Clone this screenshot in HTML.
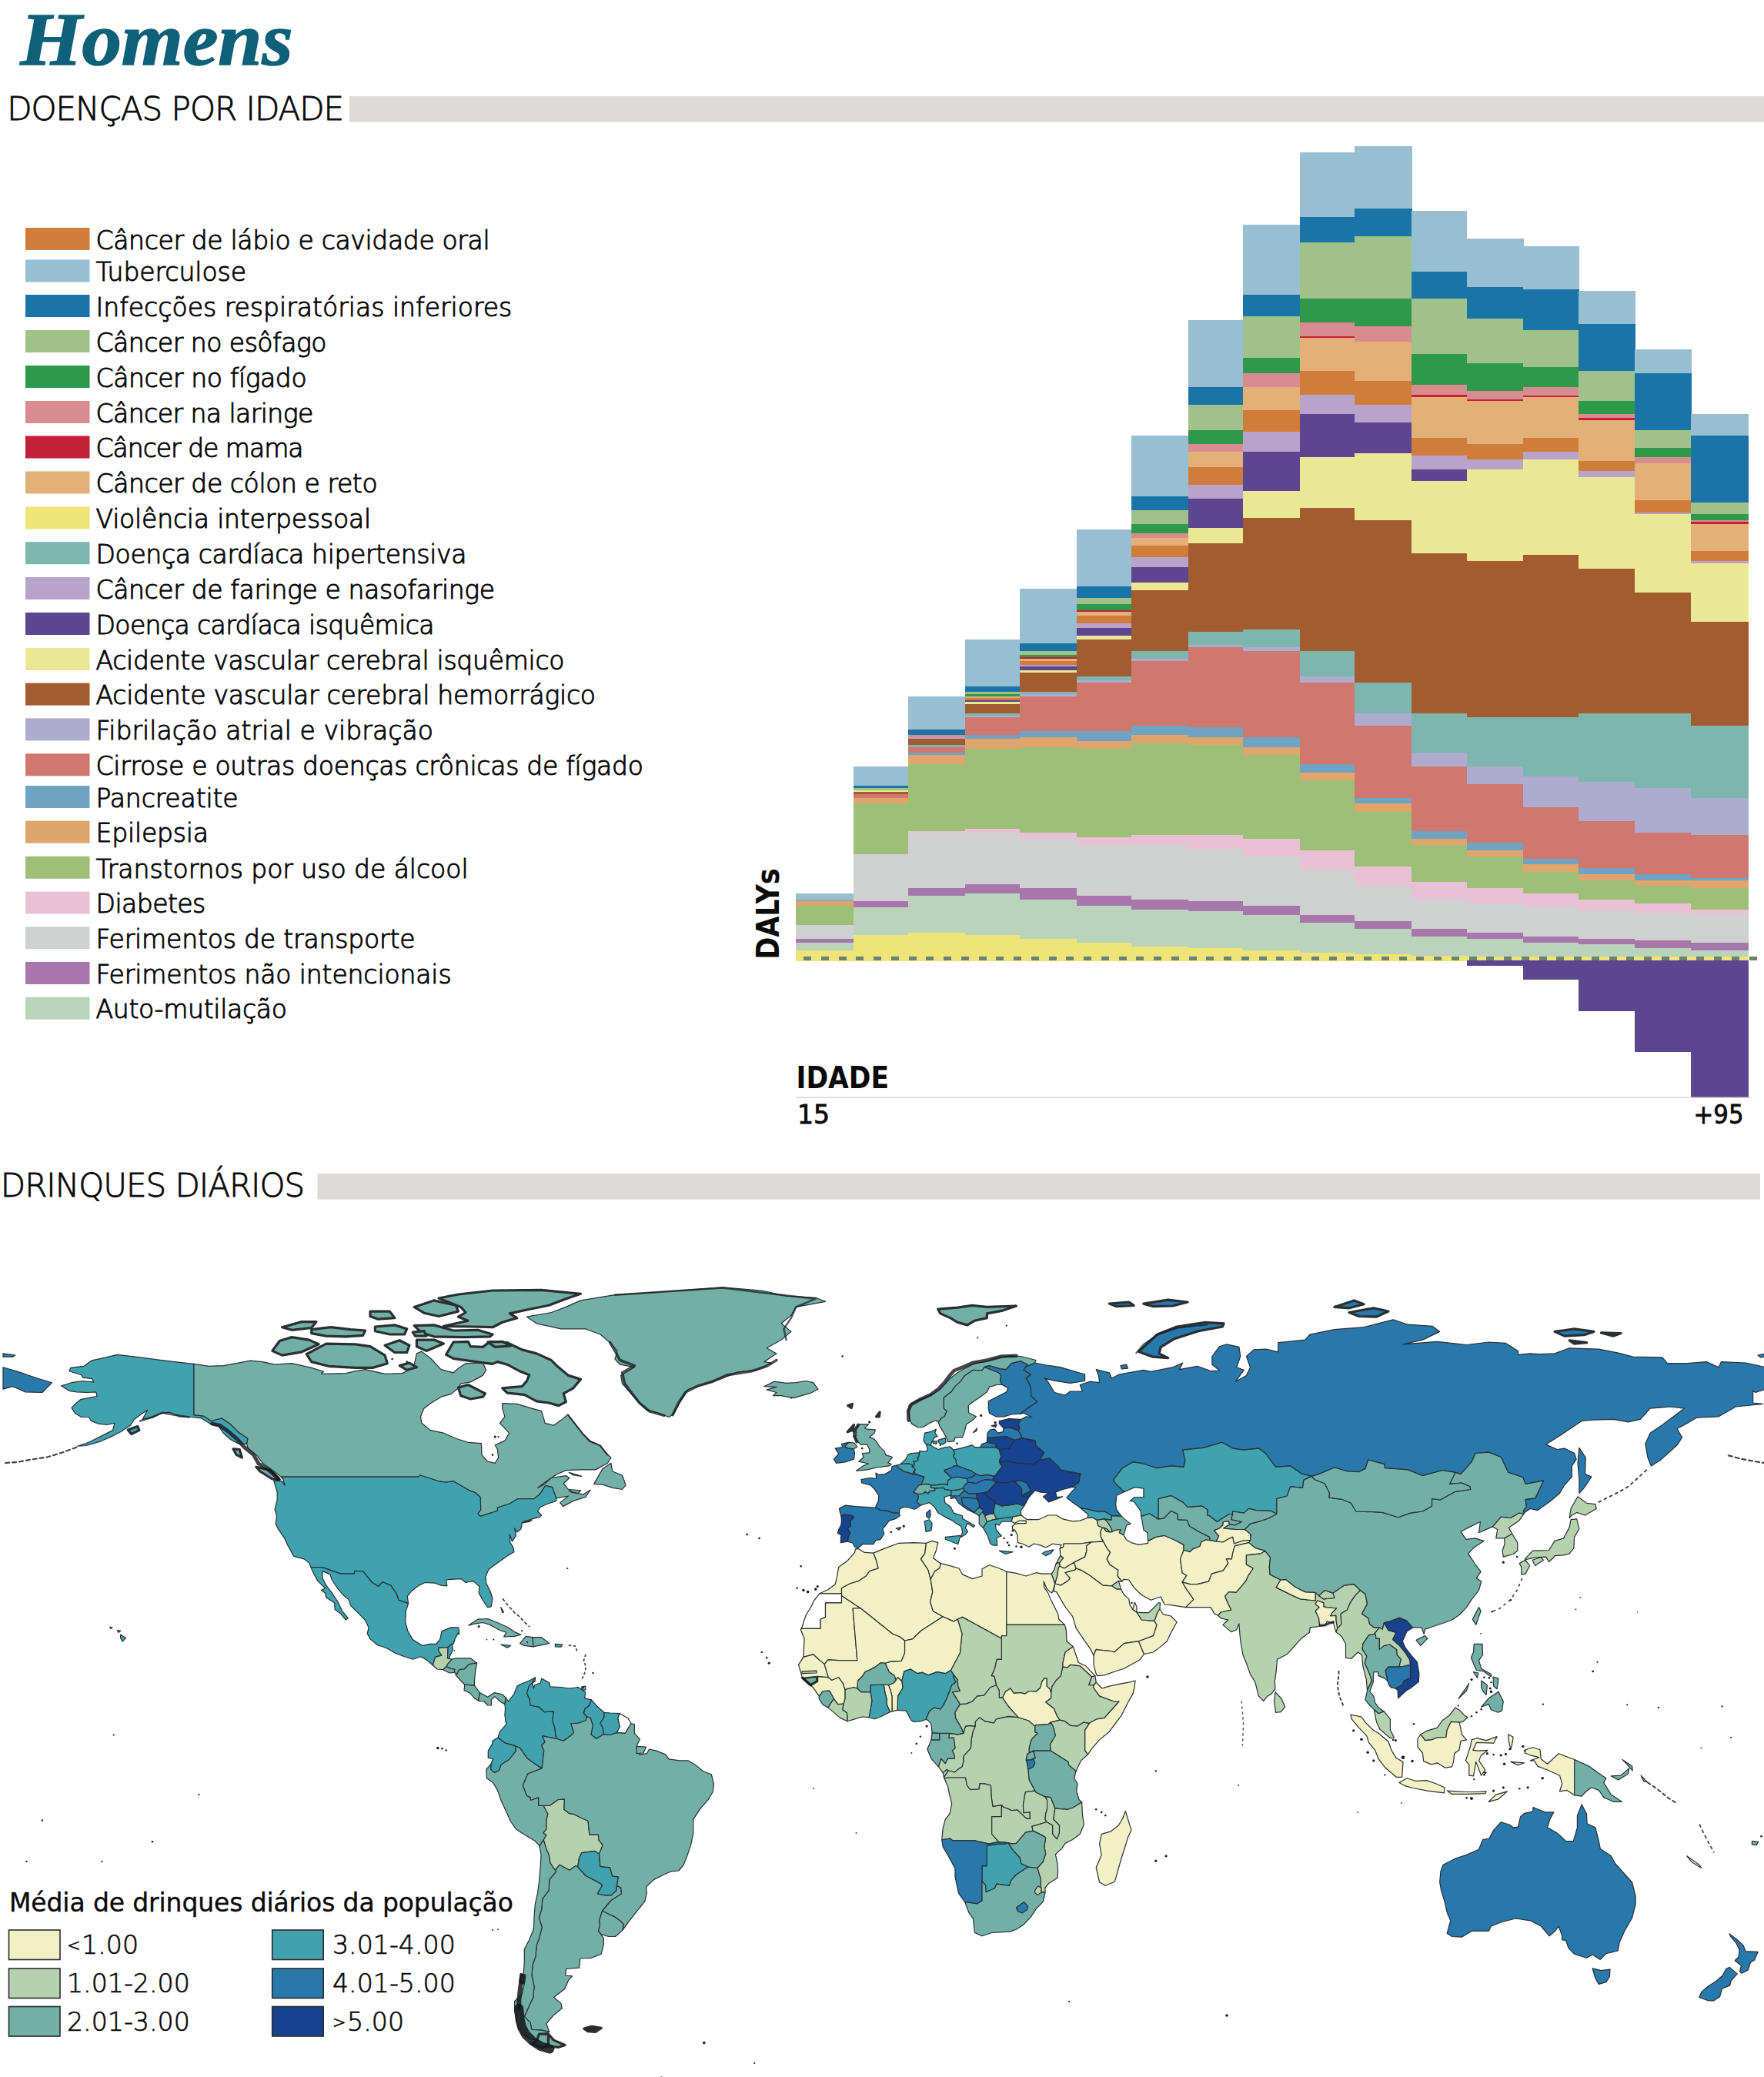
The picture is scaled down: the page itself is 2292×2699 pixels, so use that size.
<!DOCTYPE html>
<html lang="pt-BR"><head><meta charset="utf-8"><title>Homens</title>
<style>
html,body{margin:0;padding:0;background:#fff}
body{width:2292px;height:2699px;overflow:hidden}
svg{display:block}
text{font-family:"DejaVu Sans","Liberation Sans",sans-serif;fill:#0a0a0a}
.ttl{font-family:"Liberation Serif","DejaVu Serif",serif;font-weight:bold;font-style:italic;font-size:97px;fill:#0f6079;stroke:#0f6079;stroke-width:1.6px}
.hd{font-weight:200;font-size:42px;letter-spacing:-1.0px;stroke:#0a0a0a;stroke-width:.85px}
.lg{font-weight:200;font-size:33px;stroke:#0a0a0a;stroke-width:1px}
.ml{font-weight:200;font-size:33.2px;stroke:#0a0a0a;stroke-width:.7px}
.mt{font-size:33px;letter-spacing:-.12px;stroke:#0a0a0a;stroke-width:.35px}
.ax{font-size:33px;stroke:#0a0a0a;stroke-width:.8px}
.axb{font-family:"DejaVu Sans Condensed","DejaVu Sans",sans-serif;font-stretch:condensed;font-weight:bold;font-size:38px}
</style></head><body>
<svg width="2292" height="2699" viewBox="0 0 2292 2699">
<rect width="2292" height="2699" fill="#fff"/>
<text class="ttl" x="26.5" y="84" textLength="354" lengthAdjust="spacingAndGlyphs">Homens</text>
<text class="hd" x="9.2" y="156">DOENÇAS POR IDADE</text>
<rect x="454" y="125" width="1838" height="33.6" fill="#dedad7"/>
<g id="legend">
<rect x="33" y="296" width="83.5" height="29" fill="#d07c3a"/>
<text class="lg" x="124.5" y="323.7" textLength="512.1">Câncer de lábio e cavidade oral</text>
<rect x="33" y="337.5" width="83.5" height="29" fill="#97bfd1"/>
<text class="lg" x="124.5" y="365.2" textLength="195.5">Tuberculose</text>
<rect x="33" y="383" width="83.5" height="29" fill="#1b74a8"/>
<text class="lg" x="124.5" y="410.7" textLength="540.8">Infecções respiratórias inferiores</text>
<rect x="33" y="429" width="83.5" height="29" fill="#a1c18a"/>
<text class="lg" x="124.5" y="456.7" textLength="299.9">Câncer no esôfago</text>
<rect x="33" y="475" width="83.5" height="29" fill="#2f994b"/>
<text class="lg" x="124.5" y="502.7" textLength="274.1">Câncer no fígado</text>
<rect x="33" y="521" width="83.5" height="29" fill="#d88c90"/>
<text class="lg" x="124.5" y="548.7" textLength="282.8">Câncer na laringe</text>
<rect x="33" y="566.5" width="83.5" height="29" fill="#c32138"/>
<text class="lg" x="124.5" y="594.2" textLength="270.1">Câncer de mama</text>
<rect x="33" y="612.5" width="83.5" height="29" fill="#e3b177"/>
<text class="lg" x="124.5" y="640.2" textLength="366.1">Câncer de cólon e reto</text>
<rect x="33" y="658.5" width="83.5" height="29" fill="#eee478"/>
<text class="lg" x="124.5" y="686.2" textLength="357.6">Violência interpessoal</text>
<rect x="33" y="704.2" width="83.5" height="29" fill="#7db6af"/>
<text class="lg" x="124.5" y="731.9000000000001" textLength="481.9">Doença cardíaca hipertensiva</text>
<rect x="33" y="750" width="83.5" height="29" fill="#b8a4cb"/>
<text class="lg" x="124.5" y="777.7" textLength="518.5">Câncer de faringe e nasofaringe</text>
<rect x="33" y="796" width="83.5" height="29" fill="#5d4590"/>
<text class="lg" x="124.5" y="823.7" textLength="440.0">Doença cardíaca isquêmica</text>
<rect x="33" y="842" width="83.5" height="29" fill="#eae894"/>
<text class="lg" x="124.5" y="869.7" textLength="609.0">Acidente vascular cerebral isquêmico</text>
<rect x="33" y="887.6" width="83.5" height="29" fill="#a35b30"/>
<text class="lg" x="124.5" y="915.3000000000001" textLength="649.5">Acidente vascular cerebral hemorrágico</text>
<rect x="33" y="933.4" width="83.5" height="29" fill="#aeacce"/>
<text class="lg" x="124.5" y="961.1" textLength="438.5">Fibrilação atrial e vibração</text>
<rect x="33" y="979.3" width="83.5" height="29" fill="#d07870"/>
<text class="lg" x="124.5" y="1007.0" textLength="711.4">Cirrose e outras doenças crônicas de fígado</text>
<rect x="33" y="1021" width="83.5" height="29" fill="#70a3c1"/>
<text class="lg" x="124.5" y="1048.7" textLength="185.1">Pancreatite</text>
<rect x="33" y="1066.7" width="83.5" height="29" fill="#dfa56c"/>
<text class="lg" x="124.5" y="1094.4" textLength="146.6">Epilepsia</text>
<rect x="33" y="1112.8" width="83.5" height="29" fill="#9ebf77"/>
<text class="lg" x="124.5" y="1140.5" textLength="484.1">Transtornos por uso de álcool</text>
<rect x="33" y="1158.6" width="83.5" height="29" fill="#e8c1d5"/>
<text class="lg" x="124.5" y="1186.3" textLength="142.8">Diabetes</text>
<rect x="33" y="1204.3" width="83.5" height="29" fill="#cfd1d0"/>
<text class="lg" x="124.5" y="1232.0" textLength="415.1">Ferimentos de transporte</text>
<rect x="33" y="1250" width="83.5" height="29" fill="#a777ab"/>
<text class="lg" x="124.5" y="1277.7" textLength="462.1">Ferimentos não intencionais</text>
<rect x="33" y="1295.7" width="83.5" height="29" fill="#b9d4ba"/>
<text class="lg" x="124.5" y="1323.4" textLength="248.5">Auto-mutilação</text>
</g>
<g id="chart" shape-rendering="crispEdges">
<rect x="1034.0" y="1161.0" width="75.6" height="8.3" fill="#97bfd1"/>
<rect x="1034.0" y="1168.7" width="75.6" height="2.9" fill="#7db6af"/>
<rect x="1034.0" y="1171.0" width="75.6" height="6.6" fill="#dfa56c"/>
<rect x="1034.0" y="1177.0" width="75.6" height="25.6" fill="#9ebf77"/>
<rect x="1034.0" y="1202.0" width="75.6" height="18.6" fill="#cfd1d0"/>
<rect x="1034.0" y="1220.0" width="75.6" height="5.6" fill="#a777ab"/>
<rect x="1034.0" y="1225.0" width="75.6" height="10.6" fill="#b9d4ba"/>
<rect x="1034.0" y="1235.0" width="75.6" height="13.6" fill="#eee478"/>
<rect x="1109.0" y="995.8" width="71.6" height="25.8" fill="#97bfd1"/>
<rect x="1109.0" y="1021.0" width="71.6" height="3.8" fill="#1b74a8"/>
<rect x="1109.0" y="1024.2" width="71.6" height="3.7" fill="#a1c18a"/>
<rect x="1109.0" y="1027.3" width="71.6" height="2.5" fill="#eae894"/>
<rect x="1109.0" y="1029.2" width="71.6" height="3.3" fill="#a35b30"/>
<rect x="1109.0" y="1031.9" width="71.6" height="5.8" fill="#d07870"/>
<rect x="1109.0" y="1037.1" width="71.6" height="7.6" fill="#dfa56c"/>
<rect x="1109.0" y="1044.1" width="71.6" height="66.4" fill="#9ebf77"/>
<rect x="1109.0" y="1109.9" width="71.6" height="61.6" fill="#cfd1d0"/>
<rect x="1109.0" y="1170.9" width="71.6" height="8.5" fill="#a777ab"/>
<rect x="1109.0" y="1178.8" width="71.6" height="36.7" fill="#b9d4ba"/>
<rect x="1109.0" y="1214.9" width="71.6" height="33.7" fill="#eee478"/>
<rect x="1180.0" y="905.0" width="74.6" height="43.6" fill="#97bfd1"/>
<rect x="1180.0" y="948.0" width="74.6" height="7.6" fill="#1b74a8"/>
<rect x="1180.0" y="955.0" width="74.6" height="3.6" fill="#d88c90"/>
<rect x="1180.0" y="958.0" width="74.6" height="2.6" fill="#b8a4cb"/>
<rect x="1180.0" y="960.0" width="74.6" height="8.6" fill="#a35b30"/>
<rect x="1180.0" y="968.0" width="74.6" height="3.6" fill="#7db6af"/>
<rect x="1180.0" y="971.0" width="74.6" height="7.6" fill="#d07870"/>
<rect x="1180.0" y="978.0" width="74.6" height="3.6" fill="#70a3c1"/>
<rect x="1180.0" y="981.0" width="74.6" height="12.6" fill="#dfa56c"/>
<rect x="1180.0" y="993.0" width="74.6" height="87.6" fill="#9ebf77"/>
<rect x="1180.0" y="1080.0" width="74.6" height="3.0" fill="#e8c1d5"/>
<rect x="1180.0" y="1082.4" width="74.6" height="72.2" fill="#cfd1d0"/>
<rect x="1180.0" y="1154.0" width="74.6" height="10.6" fill="#a777ab"/>
<rect x="1180.0" y="1164.0" width="74.6" height="48.6" fill="#b9d4ba"/>
<rect x="1180.0" y="1212.0" width="74.6" height="36.6" fill="#eee478"/>
<rect x="1254.0" y="831.0" width="71.6" height="61.6" fill="#97bfd1"/>
<rect x="1254.0" y="892.0" width="71.6" height="7.6" fill="#1b74a8"/>
<rect x="1254.0" y="899.0" width="71.6" height="3.6" fill="#a1c18a"/>
<rect x="1254.0" y="902.0" width="71.6" height="3.6" fill="#2f994b"/>
<rect x="1254.0" y="905.0" width="71.6" height="2.6" fill="#e3b177"/>
<rect x="1254.0" y="907.0" width="71.6" height="3.6" fill="#d07c3a"/>
<rect x="1254.0" y="910.0" width="71.6" height="2.6" fill="#5d4590"/>
<rect x="1254.0" y="912.0" width="71.6" height="3.6" fill="#eae894"/>
<rect x="1254.0" y="915.0" width="71.6" height="12.6" fill="#a35b30"/>
<rect x="1254.0" y="927.0" width="71.6" height="3.6" fill="#7db6af"/>
<rect x="1254.0" y="930.0" width="71.6" height="2.6" fill="#aeacce"/>
<rect x="1254.0" y="932.0" width="71.6" height="23.6" fill="#d07870"/>
<rect x="1254.0" y="955.0" width="71.6" height="5.6" fill="#70a3c1"/>
<rect x="1254.0" y="960.0" width="71.6" height="13.6" fill="#dfa56c"/>
<rect x="1254.0" y="973.0" width="71.6" height="104.6" fill="#9ebf77"/>
<rect x="1254.0" y="1077.0" width="71.6" height="5.6" fill="#e8c1d5"/>
<rect x="1254.0" y="1082.0" width="71.6" height="67.6" fill="#cfd1d0"/>
<rect x="1254.0" y="1149.0" width="71.6" height="12.6" fill="#a777ab"/>
<rect x="1254.0" y="1161.0" width="71.6" height="54.6" fill="#b9d4ba"/>
<rect x="1254.0" y="1215.0" width="71.6" height="33.6" fill="#eee478"/>
<rect x="1325.0" y="765.0" width="74.6" height="71.6" fill="#97bfd1"/>
<rect x="1325.0" y="836.0" width="74.6" height="10.6" fill="#1b74a8"/>
<rect x="1325.0" y="846.0" width="74.6" height="5.6" fill="#a1c18a"/>
<rect x="1325.0" y="851.0" width="74.6" height="3.6" fill="#2f994b"/>
<rect x="1325.0" y="854.0" width="74.6" height="2.6" fill="#c32138"/>
<rect x="1325.0" y="856.0" width="74.6" height="3.6" fill="#e3b177"/>
<rect x="1325.0" y="859.0" width="74.6" height="5.6" fill="#d07c3a"/>
<rect x="1325.0" y="864.0" width="74.6" height="2.6" fill="#b8a4cb"/>
<rect x="1325.0" y="866.0" width="74.6" height="5.6" fill="#5d4590"/>
<rect x="1325.0" y="871.0" width="74.6" height="3.6" fill="#eae894"/>
<rect x="1325.0" y="874.0" width="74.6" height="25.6" fill="#a35b30"/>
<rect x="1325.0" y="899.0" width="74.6" height="3.6" fill="#7db6af"/>
<rect x="1325.0" y="902.0" width="74.6" height="3.6" fill="#aeacce"/>
<rect x="1325.0" y="905.0" width="74.6" height="45.6" fill="#d07870"/>
<rect x="1325.0" y="950.0" width="74.6" height="8.6" fill="#70a3c1"/>
<rect x="1325.0" y="958.0" width="74.6" height="13.6" fill="#dfa56c"/>
<rect x="1325.0" y="971.0" width="74.6" height="111.6" fill="#9ebf77"/>
<rect x="1325.0" y="1082.0" width="74.6" height="8.6" fill="#e8c1d5"/>
<rect x="1325.0" y="1090.0" width="74.6" height="64.6" fill="#cfd1d0"/>
<rect x="1325.0" y="1154.0" width="74.6" height="15.6" fill="#a777ab"/>
<rect x="1325.0" y="1169.0" width="74.6" height="51.6" fill="#b9d4ba"/>
<rect x="1325.0" y="1220.0" width="74.6" height="28.6" fill="#eee478"/>
<rect x="1399.0" y="688.0" width="71.6" height="74.6" fill="#97bfd1"/>
<rect x="1399.0" y="762.0" width="71.6" height="15.6" fill="#1b74a8"/>
<rect x="1399.0" y="777.0" width="71.6" height="8.6" fill="#a1c18a"/>
<rect x="1399.0" y="785.0" width="71.6" height="8.6" fill="#2f994b"/>
<rect x="1399.0" y="793.0" width="71.6" height="2.6" fill="#c32138"/>
<rect x="1399.0" y="795.0" width="71.6" height="5.6" fill="#e3b177"/>
<rect x="1399.0" y="800.0" width="71.6" height="10.6" fill="#d07c3a"/>
<rect x="1399.0" y="810.0" width="71.6" height="6.6" fill="#b8a4cb"/>
<rect x="1399.0" y="816.0" width="71.6" height="10.6" fill="#5d4590"/>
<rect x="1399.0" y="826.0" width="71.6" height="5.6" fill="#eae894"/>
<rect x="1399.0" y="831.0" width="71.6" height="48.6" fill="#a35b30"/>
<rect x="1399.0" y="879.0" width="71.6" height="5.6" fill="#7db6af"/>
<rect x="1399.0" y="884.0" width="71.6" height="3.6" fill="#aeacce"/>
<rect x="1399.0" y="887.0" width="71.6" height="63.6" fill="#d07870"/>
<rect x="1399.0" y="950.0" width="71.6" height="13.6" fill="#70a3c1"/>
<rect x="1399.0" y="963.0" width="71.6" height="10.6" fill="#dfa56c"/>
<rect x="1399.0" y="973.0" width="71.6" height="115.6" fill="#9ebf77"/>
<rect x="1399.0" y="1088.0" width="71.6" height="10.3" fill="#e8c1d5"/>
<rect x="1399.0" y="1097.7" width="71.6" height="66.9" fill="#cfd1d0"/>
<rect x="1399.0" y="1164.0" width="71.6" height="13.6" fill="#a777ab"/>
<rect x="1399.0" y="1177.0" width="71.6" height="48.6" fill="#b9d4ba"/>
<rect x="1399.0" y="1225.0" width="71.6" height="23.6" fill="#eee478"/>
<rect x="1470.0" y="566.0" width="74.6" height="79.6" fill="#97bfd1"/>
<rect x="1470.0" y="645.0" width="74.6" height="18.6" fill="#1b74a8"/>
<rect x="1470.0" y="663.0" width="74.6" height="18.6" fill="#a1c18a"/>
<rect x="1470.0" y="681.0" width="74.6" height="12.6" fill="#2f994b"/>
<rect x="1470.0" y="693.0" width="74.6" height="6.6" fill="#d88c90"/>
<rect x="1470.0" y="699.0" width="74.6" height="10.6" fill="#e3b177"/>
<rect x="1470.0" y="709.0" width="74.6" height="15.6" fill="#d07c3a"/>
<rect x="1470.0" y="724.0" width="74.6" height="13.6" fill="#b8a4cb"/>
<rect x="1470.0" y="737.0" width="74.6" height="20.6" fill="#5d4590"/>
<rect x="1470.0" y="757.0" width="74.6" height="10.6" fill="#eae894"/>
<rect x="1470.0" y="767.0" width="74.6" height="79.6" fill="#a35b30"/>
<rect x="1470.0" y="846.0" width="74.6" height="10.6" fill="#7db6af"/>
<rect x="1470.0" y="856.0" width="74.6" height="3.6" fill="#aeacce"/>
<rect x="1470.0" y="859.0" width="74.6" height="84.6" fill="#d07870"/>
<rect x="1470.0" y="943.0" width="74.6" height="12.6" fill="#70a3c1"/>
<rect x="1470.0" y="955.0" width="74.6" height="11.6" fill="#dfa56c"/>
<rect x="1470.0" y="966.0" width="74.6" height="119.6" fill="#9ebf77"/>
<rect x="1470.0" y="1085.0" width="74.6" height="13.3" fill="#e8c1d5"/>
<rect x="1470.0" y="1097.7" width="74.6" height="71.9" fill="#cfd1d0"/>
<rect x="1470.0" y="1169.0" width="74.6" height="13.6" fill="#a777ab"/>
<rect x="1470.0" y="1182.0" width="74.6" height="48.6" fill="#b9d4ba"/>
<rect x="1470.0" y="1230.0" width="74.6" height="18.6" fill="#eee478"/>
<rect x="1544.0" y="416.0" width="71.6" height="87.6" fill="#97bfd1"/>
<rect x="1544.0" y="503.0" width="71.6" height="23.6" fill="#1b74a8"/>
<rect x="1544.0" y="526.0" width="71.6" height="33.6" fill="#a1c18a"/>
<rect x="1544.0" y="559.0" width="71.6" height="18.6" fill="#2f994b"/>
<rect x="1544.0" y="577.0" width="71.6" height="10.6" fill="#d88c90"/>
<rect x="1544.0" y="587.0" width="71.6" height="20.6" fill="#e3b177"/>
<rect x="1544.0" y="607.0" width="71.6" height="23.6" fill="#d07c3a"/>
<rect x="1544.0" y="630.0" width="71.6" height="18.6" fill="#b8a4cb"/>
<rect x="1544.0" y="648.0" width="71.6" height="38.6" fill="#5d4590"/>
<rect x="1544.0" y="686.0" width="71.6" height="20.6" fill="#eae894"/>
<rect x="1544.0" y="706.0" width="71.6" height="115.6" fill="#a35b30"/>
<rect x="1544.0" y="821.0" width="71.6" height="17.6" fill="#7db6af"/>
<rect x="1544.0" y="838.0" width="71.6" height="3.6" fill="#aeacce"/>
<rect x="1544.0" y="841.0" width="71.6" height="104.6" fill="#d07870"/>
<rect x="1544.0" y="945.0" width="71.6" height="13.6" fill="#70a3c1"/>
<rect x="1544.0" y="958.0" width="71.6" height="10.6" fill="#dfa56c"/>
<rect x="1544.0" y="968.0" width="71.6" height="117.6" fill="#9ebf77"/>
<rect x="1544.0" y="1085.0" width="71.6" height="18.6" fill="#e8c1d5"/>
<rect x="1544.0" y="1103.0" width="71.6" height="68.6" fill="#cfd1d0"/>
<rect x="1544.0" y="1171.0" width="71.6" height="13.2" fill="#a777ab"/>
<rect x="1544.0" y="1183.6" width="71.6" height="49.0" fill="#b9d4ba"/>
<rect x="1544.0" y="1232.0" width="71.6" height="16.6" fill="#eee478"/>
<rect x="1615.0" y="292.0" width="74.6" height="91.6" fill="#97bfd1"/>
<rect x="1615.0" y="383.0" width="74.6" height="28.6" fill="#1b74a8"/>
<rect x="1615.0" y="411.0" width="74.6" height="54.6" fill="#a1c18a"/>
<rect x="1615.0" y="465.0" width="74.6" height="20.6" fill="#2f994b"/>
<rect x="1615.0" y="485.0" width="74.6" height="18.6" fill="#d88c90"/>
<rect x="1615.0" y="503.0" width="74.6" height="30.6" fill="#e3b177"/>
<rect x="1615.0" y="533.0" width="74.6" height="28.6" fill="#d07c3a"/>
<rect x="1615.0" y="561.0" width="74.6" height="26.6" fill="#b8a4cb"/>
<rect x="1615.0" y="587.0" width="74.6" height="51.6" fill="#5d4590"/>
<rect x="1615.0" y="638.0" width="74.6" height="35.6" fill="#eae894"/>
<rect x="1615.0" y="673.0" width="74.6" height="145.6" fill="#a35b30"/>
<rect x="1615.0" y="818.0" width="74.6" height="23.6" fill="#7db6af"/>
<rect x="1615.0" y="841.0" width="74.6" height="5.6" fill="#aeacce"/>
<rect x="1615.0" y="846.0" width="74.6" height="112.6" fill="#d07870"/>
<rect x="1615.0" y="958.0" width="74.6" height="13.6" fill="#70a3c1"/>
<rect x="1615.0" y="971.0" width="74.6" height="10.6" fill="#dfa56c"/>
<rect x="1615.0" y="981.0" width="74.6" height="109.6" fill="#9ebf77"/>
<rect x="1615.0" y="1090.0" width="74.6" height="23.6" fill="#e8c1d5"/>
<rect x="1615.0" y="1113.0" width="74.6" height="64.6" fill="#cfd1d0"/>
<rect x="1615.0" y="1177.0" width="74.6" height="12.6" fill="#a777ab"/>
<rect x="1615.0" y="1189.0" width="74.6" height="46.6" fill="#b9d4ba"/>
<rect x="1615.0" y="1235.0" width="74.6" height="13.6" fill="#eee478"/>
<rect x="1689.0" y="198.0" width="71.6" height="84.6" fill="#97bfd1"/>
<rect x="1689.0" y="282.0" width="71.6" height="33.6" fill="#1b74a8"/>
<rect x="1689.0" y="315.0" width="71.6" height="73.6" fill="#a1c18a"/>
<rect x="1689.0" y="388.0" width="71.6" height="31.6" fill="#2f994b"/>
<rect x="1689.0" y="419.0" width="71.6" height="18.6" fill="#d88c90"/>
<rect x="1689.0" y="437.0" width="71.6" height="2.6" fill="#c32138"/>
<rect x="1689.0" y="439.0" width="71.6" height="43.6" fill="#e3b177"/>
<rect x="1689.0" y="482.0" width="71.6" height="31.6" fill="#d07c3a"/>
<rect x="1689.0" y="513.0" width="71.6" height="25.6" fill="#b8a4cb"/>
<rect x="1689.0" y="538.0" width="71.6" height="56.6" fill="#5d4590"/>
<rect x="1689.0" y="594.0" width="71.6" height="66.6" fill="#eae894"/>
<rect x="1689.0" y="660.0" width="71.6" height="186.6" fill="#a35b30"/>
<rect x="1689.0" y="846.0" width="71.6" height="33.6" fill="#7db6af"/>
<rect x="1689.0" y="879.0" width="71.6" height="8.6" fill="#aeacce"/>
<rect x="1689.0" y="887.0" width="71.6" height="106.6" fill="#d07870"/>
<rect x="1689.0" y="993.0" width="71.6" height="11.6" fill="#70a3c1"/>
<rect x="1689.0" y="1004.0" width="71.6" height="10.6" fill="#dfa56c"/>
<rect x="1689.0" y="1014.0" width="71.6" height="91.6" fill="#9ebf77"/>
<rect x="1689.0" y="1105.0" width="71.6" height="26.6" fill="#e8c1d5"/>
<rect x="1689.0" y="1131.0" width="71.6" height="58.6" fill="#cfd1d0"/>
<rect x="1689.0" y="1189.0" width="71.6" height="10.6" fill="#a777ab"/>
<rect x="1689.0" y="1199.0" width="71.6" height="39.1" fill="#b9d4ba"/>
<rect x="1689.0" y="1237.5" width="71.6" height="11.1" fill="#eee478"/>
<rect x="1760.0" y="190.0" width="74.6" height="81.6" fill="#97bfd1"/>
<rect x="1760.0" y="271.0" width="74.6" height="36.6" fill="#1b74a8"/>
<rect x="1760.0" y="307.0" width="74.6" height="81.6" fill="#a1c18a"/>
<rect x="1760.0" y="388.0" width="74.6" height="36.6" fill="#2f994b"/>
<rect x="1760.0" y="424.0" width="74.6" height="20.6" fill="#d88c90"/>
<rect x="1760.0" y="444.0" width="74.6" height="51.6" fill="#e3b177"/>
<rect x="1760.0" y="495.0" width="74.6" height="31.6" fill="#d07c3a"/>
<rect x="1760.0" y="526.0" width="74.6" height="23.6" fill="#b8a4cb"/>
<rect x="1760.0" y="549.0" width="74.6" height="40.6" fill="#5d4590"/>
<rect x="1760.0" y="589.0" width="74.6" height="87.6" fill="#eae894"/>
<rect x="1760.0" y="676.0" width="74.6" height="211.6" fill="#a35b30"/>
<rect x="1760.0" y="887.0" width="74.6" height="40.6" fill="#7db6af"/>
<rect x="1760.0" y="927.0" width="74.6" height="16.6" fill="#aeacce"/>
<rect x="1760.0" y="943.0" width="74.6" height="94.6" fill="#d07870"/>
<rect x="1760.0" y="1037.0" width="74.6" height="7.6" fill="#70a3c1"/>
<rect x="1760.0" y="1044.0" width="74.6" height="11.1" fill="#dfa56c"/>
<rect x="1760.0" y="1054.5" width="74.6" height="72.1" fill="#9ebf77"/>
<rect x="1760.0" y="1126.0" width="74.6" height="25.6" fill="#e8c1d5"/>
<rect x="1760.0" y="1151.0" width="74.6" height="46.6" fill="#cfd1d0"/>
<rect x="1760.0" y="1197.0" width="74.6" height="10.6" fill="#a777ab"/>
<rect x="1760.0" y="1207.0" width="74.6" height="33.1" fill="#b9d4ba"/>
<rect x="1760.0" y="1239.5" width="74.6" height="9.1" fill="#eee478"/>
<rect x="1834.0" y="274.0" width="72.1" height="79.6" fill="#97bfd1"/>
<rect x="1834.0" y="353.0" width="72.1" height="35.6" fill="#1b74a8"/>
<rect x="1834.0" y="388.0" width="72.1" height="72.6" fill="#a1c18a"/>
<rect x="1834.0" y="460.0" width="72.1" height="40.6" fill="#2f994b"/>
<rect x="1834.0" y="500.0" width="72.1" height="13.6" fill="#d88c90"/>
<rect x="1834.0" y="513.0" width="72.1" height="3.6" fill="#c32138"/>
<rect x="1834.0" y="516.0" width="72.1" height="53.6" fill="#e3b177"/>
<rect x="1834.0" y="569.0" width="72.1" height="23.6" fill="#d07c3a"/>
<rect x="1834.0" y="592.0" width="72.1" height="18.6" fill="#b8a4cb"/>
<rect x="1834.0" y="610.0" width="72.1" height="15.6" fill="#5d4590"/>
<rect x="1834.0" y="625.0" width="72.1" height="94.6" fill="#eae894"/>
<rect x="1834.0" y="719.0" width="72.1" height="208.6" fill="#a35b30"/>
<rect x="1834.0" y="927.0" width="72.1" height="51.6" fill="#7db6af"/>
<rect x="1834.0" y="978.0" width="72.1" height="18.6" fill="#aeacce"/>
<rect x="1834.0" y="996.0" width="72.1" height="84.6" fill="#d07870"/>
<rect x="1834.0" y="1080.0" width="72.1" height="10.6" fill="#70a3c1"/>
<rect x="1834.0" y="1090.0" width="72.1" height="8.6" fill="#dfa56c"/>
<rect x="1834.0" y="1098.0" width="72.1" height="48.6" fill="#9ebf77"/>
<rect x="1834.0" y="1146.0" width="72.1" height="23.6" fill="#e8c1d5"/>
<rect x="1834.0" y="1169.0" width="72.1" height="38.6" fill="#cfd1d0"/>
<rect x="1834.0" y="1207.0" width="72.1" height="10.6" fill="#a777ab"/>
<rect x="1834.0" y="1217.0" width="72.1" height="25.6" fill="#b9d4ba"/>
<rect x="1834.0" y="1242.0" width="72.1" height="6.6" fill="#eee478"/>
<rect x="1905.5" y="310.0" width="74.1" height="63.6" fill="#97bfd1"/>
<rect x="1905.5" y="373.0" width="74.1" height="41.6" fill="#1b74a8"/>
<rect x="1905.5" y="414.0" width="74.1" height="58.6" fill="#a1c18a"/>
<rect x="1905.5" y="472.0" width="74.1" height="36.6" fill="#2f994b"/>
<rect x="1905.5" y="508.0" width="74.1" height="11.1" fill="#d88c90"/>
<rect x="1905.5" y="518.5" width="74.1" height="3.1" fill="#c32138"/>
<rect x="1905.5" y="521.0" width="74.1" height="56.6" fill="#e3b177"/>
<rect x="1905.5" y="577.0" width="74.1" height="20.6" fill="#d07c3a"/>
<rect x="1905.5" y="597.0" width="74.1" height="13.6" fill="#b8a4cb"/>
<rect x="1905.5" y="610.0" width="74.1" height="119.6" fill="#eae894"/>
<rect x="1905.5" y="729.0" width="74.1" height="203.6" fill="#a35b30"/>
<rect x="1905.5" y="932.0" width="74.1" height="64.6" fill="#7db6af"/>
<rect x="1905.5" y="996.0" width="74.1" height="23.6" fill="#aeacce"/>
<rect x="1905.5" y="1019.0" width="74.1" height="76.6" fill="#d07870"/>
<rect x="1905.5" y="1095.0" width="74.1" height="10.6" fill="#70a3c1"/>
<rect x="1905.5" y="1105.0" width="74.1" height="8.6" fill="#dfa56c"/>
<rect x="1905.5" y="1113.0" width="74.1" height="41.6" fill="#9ebf77"/>
<rect x="1905.5" y="1154.0" width="74.1" height="20.6" fill="#e8c1d5"/>
<rect x="1905.5" y="1174.0" width="74.1" height="38.6" fill="#cfd1d0"/>
<rect x="1905.5" y="1212.0" width="74.1" height="8.6" fill="#a777ab"/>
<rect x="1905.5" y="1220.0" width="74.1" height="23.6" fill="#b9d4ba"/>
<rect x="1905.5" y="1243.0" width="74.1" height="5.6" fill="#eee478"/>
<rect x="1979.0" y="320.0" width="72.6" height="56.6" fill="#97bfd1"/>
<rect x="1979.0" y="376.0" width="72.6" height="53.6" fill="#1b74a8"/>
<rect x="1979.0" y="429.0" width="72.6" height="48.6" fill="#a1c18a"/>
<rect x="1979.0" y="477.0" width="72.6" height="26.6" fill="#2f994b"/>
<rect x="1979.0" y="503.0" width="72.6" height="11.1" fill="#d88c90"/>
<rect x="1979.0" y="513.5" width="72.6" height="3.1" fill="#c32138"/>
<rect x="1979.0" y="516.0" width="72.6" height="53.6" fill="#e3b177"/>
<rect x="1979.0" y="569.0" width="72.6" height="18.6" fill="#d07c3a"/>
<rect x="1979.0" y="587.0" width="72.6" height="10.6" fill="#b8a4cb"/>
<rect x="1979.0" y="597.0" width="72.6" height="124.6" fill="#eae894"/>
<rect x="1979.0" y="721.0" width="72.6" height="211.6" fill="#a35b30"/>
<rect x="1979.0" y="932.0" width="72.6" height="77.6" fill="#7db6af"/>
<rect x="1979.0" y="1009.0" width="72.6" height="40.6" fill="#aeacce"/>
<rect x="1979.0" y="1049.0" width="72.6" height="67.6" fill="#d07870"/>
<rect x="1979.0" y="1116.0" width="72.6" height="7.6" fill="#70a3c1"/>
<rect x="1979.0" y="1123.0" width="72.6" height="10.6" fill="#dfa56c"/>
<rect x="1979.0" y="1133.0" width="72.6" height="28.6" fill="#9ebf77"/>
<rect x="1979.0" y="1161.0" width="72.6" height="18.6" fill="#e8c1d5"/>
<rect x="1979.0" y="1179.0" width="72.6" height="38.6" fill="#cfd1d0"/>
<rect x="1979.0" y="1217.0" width="72.6" height="8.6" fill="#a777ab"/>
<rect x="1979.0" y="1225.0" width="72.6" height="18.6" fill="#b9d4ba"/>
<rect x="1979.0" y="1243.0" width="72.6" height="5.6" fill="#eee478"/>
<rect x="2051.0" y="378.0" width="73.6" height="43.6" fill="#97bfd1"/>
<rect x="2051.0" y="421.0" width="73.6" height="61.6" fill="#1b74a8"/>
<rect x="2051.0" y="482.0" width="73.6" height="39.6" fill="#a1c18a"/>
<rect x="2051.0" y="521.0" width="73.6" height="17.6" fill="#2f994b"/>
<rect x="2051.0" y="538.0" width="73.6" height="5.6" fill="#d88c90"/>
<rect x="2051.0" y="543.0" width="73.6" height="3.6" fill="#c32138"/>
<rect x="2051.0" y="546.0" width="73.6" height="53.6" fill="#e3b177"/>
<rect x="2051.0" y="599.0" width="73.6" height="13.6" fill="#d07c3a"/>
<rect x="2051.0" y="612.0" width="73.6" height="8.6" fill="#b8a4cb"/>
<rect x="2051.0" y="620.0" width="73.6" height="119.6" fill="#eae894"/>
<rect x="2051.0" y="739.0" width="73.6" height="188.6" fill="#a35b30"/>
<rect x="2051.0" y="927.0" width="73.6" height="89.6" fill="#7db6af"/>
<rect x="2051.0" y="1016.0" width="73.6" height="51.6" fill="#aeacce"/>
<rect x="2051.0" y="1067.0" width="73.6" height="61.6" fill="#d07870"/>
<rect x="2051.0" y="1128.0" width="73.6" height="8.6" fill="#70a3c1"/>
<rect x="2051.0" y="1136.0" width="73.6" height="8.6" fill="#dfa56c"/>
<rect x="2051.0" y="1144.0" width="73.6" height="25.6" fill="#9ebf77"/>
<rect x="2051.0" y="1169.0" width="73.6" height="15.6" fill="#e8c1d5"/>
<rect x="2051.0" y="1184.0" width="73.6" height="36.6" fill="#cfd1d0"/>
<rect x="2051.0" y="1220.0" width="73.6" height="7.6" fill="#a777ab"/>
<rect x="2051.0" y="1227.0" width="73.6" height="16.6" fill="#b9d4ba"/>
<rect x="2051.0" y="1243.0" width="73.6" height="5.6" fill="#eee478"/>
<rect x="2124.0" y="454.0" width="73.6" height="31.6" fill="#97bfd1"/>
<rect x="2124.0" y="485.0" width="73.6" height="74.6" fill="#1b74a8"/>
<rect x="2124.0" y="559.0" width="73.6" height="23.6" fill="#a1c18a"/>
<rect x="2124.0" y="582.0" width="73.6" height="12.6" fill="#2f994b"/>
<rect x="2124.0" y="594.0" width="73.6" height="8.6" fill="#d88c90"/>
<rect x="2124.0" y="602.0" width="73.6" height="48.6" fill="#e3b177"/>
<rect x="2124.0" y="650.0" width="73.6" height="16.6" fill="#d07c3a"/>
<rect x="2124.0" y="666.0" width="73.6" height="2.6" fill="#b8a4cb"/>
<rect x="2124.0" y="668.0" width="73.6" height="102.6" fill="#eae894"/>
<rect x="2124.0" y="770.0" width="73.6" height="157.6" fill="#a35b30"/>
<rect x="2124.0" y="927.0" width="73.6" height="97.6" fill="#7db6af"/>
<rect x="2124.0" y="1024.0" width="73.6" height="58.6" fill="#aeacce"/>
<rect x="2124.0" y="1082.0" width="73.6" height="54.6" fill="#d07870"/>
<rect x="2124.0" y="1136.0" width="73.6" height="8.6" fill="#70a3c1"/>
<rect x="2124.0" y="1144.0" width="73.6" height="7.6" fill="#dfa56c"/>
<rect x="2124.0" y="1151.0" width="73.6" height="23.6" fill="#9ebf77"/>
<rect x="2124.0" y="1174.0" width="73.6" height="13.6" fill="#e8c1d5"/>
<rect x="2124.0" y="1187.0" width="73.6" height="35.6" fill="#cfd1d0"/>
<rect x="2124.0" y="1222.0" width="73.6" height="10.6" fill="#a777ab"/>
<rect x="2124.0" y="1232.0" width="73.6" height="11.6" fill="#b9d4ba"/>
<rect x="2124.0" y="1243.0" width="73.6" height="5.6" fill="#eee478"/>
<rect x="2197.0" y="538.0" width="74.6" height="28.6" fill="#97bfd1"/>
<rect x="2197.0" y="566.0" width="74.6" height="87.6" fill="#1b74a8"/>
<rect x="2197.0" y="653.0" width="74.6" height="15.6" fill="#a1c18a"/>
<rect x="2197.0" y="668.0" width="74.6" height="8.6" fill="#2f994b"/>
<rect x="2197.0" y="676.0" width="74.6" height="2.6" fill="#d88c90"/>
<rect x="2197.0" y="678.0" width="74.6" height="3.6" fill="#c32138"/>
<rect x="2197.0" y="681.0" width="74.6" height="35.6" fill="#e3b177"/>
<rect x="2197.0" y="716.0" width="74.6" height="13.6" fill="#d07c3a"/>
<rect x="2197.0" y="729.0" width="74.6" height="3.6" fill="#b8a4cb"/>
<rect x="2197.0" y="732.0" width="74.6" height="76.6" fill="#eae894"/>
<rect x="2197.0" y="808.0" width="74.6" height="135.6" fill="#a35b30"/>
<rect x="2197.0" y="943.0" width="74.6" height="94.6" fill="#7db6af"/>
<rect x="2197.0" y="1037.0" width="74.6" height="48.6" fill="#aeacce"/>
<rect x="2197.0" y="1085.0" width="74.6" height="56.6" fill="#d07870"/>
<rect x="2197.0" y="1141.0" width="74.6" height="3.6" fill="#70a3c1"/>
<rect x="2197.0" y="1144.0" width="74.6" height="10.6" fill="#dfa56c"/>
<rect x="2197.0" y="1154.0" width="74.6" height="28.6" fill="#9ebf77"/>
<rect x="2197.0" y="1182.0" width="74.6" height="7.6" fill="#e8c1d5"/>
<rect x="2197.0" y="1189.0" width="74.6" height="36.6" fill="#cfd1d0"/>
<rect x="2197.0" y="1225.0" width="74.6" height="10.6" fill="#a777ab"/>
<rect x="2197.0" y="1235.0" width="74.6" height="8.6" fill="#b9d4ba"/>
<rect x="2197.0" y="1243.0" width="74.6" height="5.6" fill="#eee478"/>
<rect x="1905.5" y="1248.0" width="74.1" height="7.0" fill="#5d4590"/>
<rect x="1979.0" y="1248.0" width="72.6" height="25.0" fill="#5d4590"/>
<rect x="2051.0" y="1248.0" width="73.6" height="66.0" fill="#5d4590"/>
<rect x="2124.0" y="1248.0" width="73.6" height="119.0" fill="#5d4590"/>
<rect x="2197.0" y="1248.0" width="74.6" height="178.0" fill="#5d4590"/>
<rect x="1034.5" y="1243" width="1236.5" height="5" fill="#eee478"/>
<rect x="1044.0" y="1243" width="10.2" height="5" fill="#6b8272"/>
<rect x="1066.8" y="1243" width="10.2" height="5" fill="#6b8272"/>
<rect x="1089.5" y="1243" width="10.2" height="5" fill="#6b8272"/>
<rect x="1112.2" y="1243" width="10.2" height="5" fill="#6b8272"/>
<rect x="1135.0" y="1243" width="10.2" height="5" fill="#6b8272"/>
<rect x="1157.8" y="1243" width="10.2" height="5" fill="#6b8272"/>
<rect x="1180.5" y="1243" width="10.2" height="5" fill="#6b8272"/>
<rect x="1203.2" y="1243" width="10.2" height="5" fill="#6b8272"/>
<rect x="1226.0" y="1243" width="10.2" height="5" fill="#6b8272"/>
<rect x="1248.8" y="1243" width="10.2" height="5" fill="#6b8272"/>
<rect x="1271.5" y="1243" width="10.2" height="5" fill="#6b8272"/>
<rect x="1294.2" y="1243" width="10.2" height="5" fill="#6b8272"/>
<rect x="1317.0" y="1243" width="10.2" height="5" fill="#6b8272"/>
<rect x="1339.8" y="1243" width="10.2" height="5" fill="#6b8272"/>
<rect x="1362.5" y="1243" width="10.2" height="5" fill="#6b8272"/>
<rect x="1385.2" y="1243" width="10.2" height="5" fill="#6b8272"/>
<rect x="1408.0" y="1243" width="10.2" height="5" fill="#6b8272"/>
<rect x="1430.8" y="1243" width="10.2" height="5" fill="#6b8272"/>
<rect x="1453.5" y="1243" width="10.2" height="5" fill="#6b8272"/>
<rect x="1476.2" y="1243" width="10.2" height="5" fill="#6b8272"/>
<rect x="1499.0" y="1243" width="10.2" height="5" fill="#6b8272"/>
<rect x="1521.8" y="1243" width="10.2" height="5" fill="#6b8272"/>
<rect x="1544.5" y="1243" width="10.2" height="5" fill="#6b8272"/>
<rect x="1567.2" y="1243" width="10.2" height="5" fill="#6b8272"/>
<rect x="1590.0" y="1243" width="10.2" height="5" fill="#6b8272"/>
<rect x="1612.8" y="1243" width="10.2" height="5" fill="#6b8272"/>
<rect x="1635.5" y="1243" width="10.2" height="5" fill="#6b8272"/>
<rect x="1658.2" y="1243" width="10.2" height="5" fill="#6b8272"/>
<rect x="1681.0" y="1243" width="10.2" height="5" fill="#6b8272"/>
<rect x="1703.8" y="1243" width="10.2" height="5" fill="#6b8272"/>
<rect x="1726.5" y="1243" width="10.2" height="5" fill="#6b8272"/>
<rect x="1749.2" y="1243" width="10.2" height="5" fill="#6b8272"/>
<rect x="1772.0" y="1243" width="10.2" height="5" fill="#6b8272"/>
<rect x="1794.8" y="1243" width="10.2" height="5" fill="#6b8272"/>
<rect x="1817.5" y="1243" width="10.2" height="5" fill="#6b8272"/>
<rect x="1840.2" y="1243" width="10.2" height="5" fill="#6b8272"/>
<rect x="1863.0" y="1243" width="10.2" height="5" fill="#6b8272"/>
<rect x="1885.8" y="1243" width="10.2" height="5" fill="#6b8272"/>
<rect x="1908.5" y="1243" width="10.2" height="5" fill="#6b8272"/>
<rect x="1931.2" y="1243" width="10.2" height="5" fill="#6b8272"/>
<rect x="1954.0" y="1243" width="10.2" height="5" fill="#6b8272"/>
<rect x="1976.8" y="1243" width="10.2" height="5" fill="#6b8272"/>
<rect x="1999.5" y="1243" width="10.2" height="5" fill="#6b8272"/>
<rect x="2022.2" y="1243" width="10.2" height="5" fill="#6b8272"/>
<rect x="2045.0" y="1243" width="10.2" height="5" fill="#6b8272"/>
<rect x="2067.8" y="1243" width="10.2" height="5" fill="#6b8272"/>
<rect x="2090.5" y="1243" width="10.2" height="5" fill="#6b8272"/>
<rect x="2113.2" y="1243" width="10.2" height="5" fill="#6b8272"/>
<rect x="2136.0" y="1243" width="10.2" height="5" fill="#6b8272"/>
<rect x="2158.8" y="1243" width="10.2" height="5" fill="#6b8272"/>
<rect x="2181.5" y="1243" width="10.2" height="5" fill="#6b8272"/>
<rect x="2204.2" y="1243" width="10.2" height="5" fill="#6b8272"/>
<rect x="2227.0" y="1243" width="10.2" height="5" fill="#6b8272"/>
<rect x="2249.8" y="1243" width="10.2" height="5" fill="#6b8272"/>
<rect x="2272.5" y="1243" width="10.2" height="5" fill="#6b8272"/>
</g>
<rect x="1034" y="1425.6" width="1241" height="1.3" fill="#d2d2da"/>
<text class="axb" style="font-size:40.5px" transform="translate(1012,1246.8) rotate(-90)" textLength="118.5" lengthAdjust="spacingAndGlyphs">DALYs</text>
<text class="axb" style="font-size:39.5px" x="1034.6" y="1414" textLength="120.5" lengthAdjust="spacingAndGlyphs">IDADE</text>
<text class="ax" x="1036" y="1459.5">15</text>
<text class="ax" x="2200.5" y="1459.5" textLength="65" lengthAdjust="spacingAndGlyphs">+95</text>
<text class="hd" x="0.8" y="1555">DRINQUES DIÁRIOS</text>
<rect x="412.5" y="1525" width="1874.5" height="33.6" fill="#dedad7"/>
<g id="map">
<g stroke="#2a2f33" stroke-width="1.2" stroke-linejoin="round">
<path d="M252.0,1772.4 L226.6,1769.6 L204.3,1766.8 L182.1,1763.9 L152.8,1760.3 L137.6,1763.9 L118.5,1768.2 L108.9,1775.3 L91.8,1777.4 L89.9,1781.7 L105.8,1786.7 L107.7,1790.2 L119.8,1791.7 L121.7,1795.9 L107.0,1794.5 L93.0,1796.7 L79.7,1800.9 L89.9,1807.3 L99.4,1808.8 L113.4,1809.5 L124.8,1808.8 L126.1,1814.5 L118.5,1815.9 L104.5,1818.7 L99.4,1823.0 L93.0,1829.4 L97.5,1836.5 L105.8,1841.5 L115.3,1841.5 L118.5,1846.5 L128.0,1850.1 L138.8,1851.5 L149.0,1849.3 L146.5,1858.6 L131.2,1866.4 L115.3,1874.3 L100.7,1879.2 L112.1,1878.5 L131.2,1872.8 L143.9,1867.1 L156.6,1860.7 L169.4,1852.2 L173.8,1845.1 L182.1,1838.7 L191.6,1832.3 L185.3,1844.4 L198.0,1842.2 L207.5,1837.2 L220.2,1835.1 L233.0,1840.8 L248.9,1841.5 L261.6,1842.9 L274.3,1850.8 L283.8,1852.9 L290.2,1862.2 L299.7,1870.7 L310.6,1876.4 L320.7,1876.4 L322.0,1869.3 L309.3,1860.7 L299.7,1850.8 L288.3,1842.9 L274.3,1846.5 L264.8,1840.1 L252.0,1838.7Z" fill="#3fa2ae"/>
<path d="M166.2,1857.9 L178.9,1853.6 L180.8,1858.6 L170.6,1863.6Z" fill="#3fa2ae" stroke-width="3.2"/>
<path d="M252.0,1772.4 L271.1,1775.3 L290.2,1774.6 L302.9,1772.4 L325.2,1768.2 L341.1,1769.6 L357.0,1773.2 L379.2,1771.7 L404.7,1777.4 L420.6,1782.4 L417.4,1785.3 L449.2,1784.6 L461.9,1781.7 L474.6,1779.6 L500.1,1785.3 L522.3,1784.6 L531.9,1780.3 L538.2,1773.2 L541.4,1758.9 L547.8,1756.1 L560.5,1766.0 L566.9,1773.2 L573.2,1779.6 L589.1,1783.8 L595.5,1778.1 L605.0,1771.7 L627.3,1771.0 L631.7,1780.3 L627.3,1787.4 L611.4,1795.9 L598.7,1798.1 L595.5,1803.8 L585.9,1811.6 L573.2,1815.2 L560.5,1823.0 L551.0,1830.1 L546.5,1840.8 L547.8,1849.3 L559.2,1858.6 L576.4,1862.2 L592.3,1869.3 L608.2,1874.3 L625.4,1875.7 L626.0,1890.6 L633.6,1899.2 L643.2,1901.3 L647.6,1894.2 L646.4,1883.5 L643.2,1877.8 L655.9,1872.1 L661.6,1862.2 L649.5,1849.3 L655.9,1840.8 L652.7,1830.1 L652.7,1823.7 L671.8,1824.4 L690.9,1830.1 L703.6,1833.7 L706.8,1844.4 L708.1,1849.3 L719.5,1852.2 L730.3,1844.4 L737.9,1838.0 L748.1,1851.5 L757.7,1863.6 L767.2,1872.8 L779.9,1878.5 L786.3,1887.1 L793.9,1894.2 L789.5,1901.3 L773.6,1909.9 L754.5,1909.9 L735.4,1910.6 L722.7,1916.3 L710.0,1924.8 L698.5,1933.4 L706.8,1929.1 L716.3,1920.5 L735.4,1917.7 L739.9,1920.5 L732.2,1927.7 L736.7,1933.4 L741.8,1939.1 L757.7,1941.9 L767.2,1936.2 L760.8,1945.5 L744.9,1950.4 L731.6,1957.6 L727.8,1952.6 L738.6,1944.0 L722.7,1946.9 L717.6,1932.6 L708.7,1930.5 L701.7,1941.2 L694.1,1947.6 L673.1,1947.6 L662.3,1954.0 L646.4,1959.0 L646.4,1963.3 L624.1,1970.4 L620.9,1966.8 L624.7,1961.8 L624.1,1945.5 L617.7,1939.8 L610.1,1936.9 L589.1,1924.8 L579.6,1926.2 L570.0,1924.8 L545.9,1917.0 L543.3,1919.1 L365.2,1919.1 L355.1,1911.3 L341.1,1901.3 L334.7,1892.1 L322.0,1881.4 L320.7,1876.4 L322.0,1869.3 L309.3,1860.7 L299.7,1850.8 L288.3,1842.9 L274.3,1846.5 L264.8,1840.1 L252.0,1838.7Z" fill="#72b0a7"/>
<path d="M332.8,1906.3 L351.9,1910.6 L363.3,1922.7 L353.8,1922.0 L337.9,1912.0Z" fill="#72b0a7" stroke-width="3.2"/>
<path d="M302.9,1882.8 L311.2,1883.5 L314.4,1894.2 L307.4,1890.6Z" fill="#72b0a7" stroke-width="3.2"/>
<path d="M771.7,1928.4 L783.1,1908.4 L793.9,1901.3 L795.8,1912.0 L808.5,1917.0 L813.0,1929.8 L808.5,1935.5 L795.8,1933.4 L783.1,1929.1Z" fill="#72b0a7"/>
<path d="M739.9,1935.5 L754.5,1936.9 L751.3,1940.5 L741.8,1938.3Z" fill="#72b0a7"/>
<path d="M739.2,1913.4 L755.8,1918.4 L744.9,1917.0Z" fill="#72b0a7"/>
<path d="M636.8,1743.3 L659.1,1744.7 L678.2,1753.9 L697.2,1758.9 L716.3,1767.5 L724.0,1775.3 L738.6,1787.4 L754.5,1792.4 L744.9,1803.8 L732.2,1810.9 L735.4,1821.6 L725.9,1826.6 L713.1,1823.0 L697.2,1820.9 L681.3,1812.3 L659.1,1810.2 L652.7,1803.8 L678.2,1801.6 L684.5,1794.5 L687.7,1786.7 L675.0,1781.7 L659.1,1773.2 L646.4,1769.6 L640.0,1772.4 L624.1,1770.3 L608.2,1768.2 L589.1,1765.3 L579.6,1760.3 L589.1,1744.0 L608.2,1743.3 L611.4,1749.7 L627.3,1750.4Z" fill="#72b0a7" stroke-width="3.2"/>
<path d="M595.5,1803.1 L608.2,1799.5 L630.5,1810.9 L627.3,1815.2 L611.4,1818.0 L598.7,1813.7Z" fill="#72b0a7" stroke-width="3.2"/>
<path d="M398.3,1759.6 L423.8,1746.1 L461.9,1746.8 L481.0,1749.7 L500.1,1761.1 L503.3,1771.7 L484.2,1777.4 L461.9,1777.4 L426.9,1775.3 L404.7,1769.6Z" fill="#72b0a7" stroke-width="3.2"/>
<path d="M353.8,1755.4 L363.3,1742.5 L379.2,1737.6 L401.5,1741.1 L414.2,1746.8 L392.0,1756.8 L366.5,1761.1Z" fill="#72b0a7" stroke-width="3.2"/>
<path d="M500.1,1748.2 L519.2,1741.8 L531.9,1748.2 L528.7,1757.5 L512.8,1757.5Z" fill="#72b0a7" stroke-width="3.2"/>
<path d="M541.4,1741.1 L563.7,1741.1 L576.4,1746.1 L554.1,1755.4 L541.4,1749.7Z" fill="#72b0a7" stroke-width="3.2"/>
<path d="M519.2,1774.6 L531.9,1771.0 L541.4,1776.7 L528.7,1780.3Z" fill="#72b0a7" stroke-width="3.2"/>
<path d="M404.7,1727.6 L430.1,1724.7 L455.6,1727.6 L474.6,1729.0 L471.5,1735.4 L449.2,1736.8 L423.8,1736.1 L404.7,1732.6Z" fill="#72b0a7" stroke-width="3.2"/>
<path d="M487.4,1724.0 L512.8,1721.9 L528.7,1726.9 L525.5,1734.0 L506.4,1734.0 L487.4,1729.7Z" fill="#72b0a7" stroke-width="3.2"/>
<path d="M538.2,1722.6 L563.7,1721.9 L589.1,1729.0 L620.9,1728.3 L640.0,1734.0 L636.8,1736.8 L601.8,1737.6 L563.7,1736.8 L547.8,1731.9Z" fill="#72b0a7" stroke-width="3.2"/>
<path d="M536.3,1731.2 L551.0,1729.7 L554.1,1736.1 L539.5,1736.1Z" fill="#72b0a7" stroke-width="3.2"/>
<path d="M538.2,1698.4 L563.7,1689.9 L592.3,1696.3 L595.5,1704.1 L570.0,1710.5 L551.0,1706.2Z" fill="#72b0a7" stroke-width="3.2"/>
<path d="M576.4,1723.3 L608.2,1716.2 L595.5,1711.2 L605.0,1705.5 L598.7,1698.4 L570.0,1687.0 L595.5,1682.0 L640.0,1677.0 L703.6,1676.3 L754.5,1681.3 L735.4,1687.7 L713.1,1696.3 L684.5,1702.0 L662.3,1706.9 L671.8,1712.6 L652.7,1718.3 L640.0,1724.7 L614.6,1724.0Z" fill="#72b0a7" stroke-width="3.2"/>
<path d="M481.0,1704.1 L506.4,1704.1 L512.8,1712.6 L490.5,1714.1 L481.0,1710.5Z" fill="#72b0a7" stroke-width="3.2"/>
<path d="M366.5,1724.7 L392.0,1717.6 L411.0,1717.6 L404.7,1725.5 L379.2,1728.3Z" fill="#72b0a7" stroke-width="3.2"/>
<path d="M633.6,1744.0 L652.7,1743.3 L663.5,1749.0 L643.2,1750.4Z" fill="#72b0a7" stroke-width="3.2"/>
<path d="M365.2,1919.1 L543.3,1919.1 L545.9,1917.0 L570.0,1924.8 L579.6,1926.2 L589.1,1924.8 L610.1,1936.9 L617.7,1939.8 L624.1,1945.5 L624.7,1961.8 L620.9,1966.8 L624.1,1970.4 L646.4,1963.3 L646.4,1959.0 L662.3,1954.0 L673.1,1947.6 L694.1,1947.6 L701.7,1941.2 L708.7,1930.5 L717.6,1932.6 L722.7,1946.9 L722.7,1950.4 L710.0,1954.7 L702.3,1958.3 L698.5,1964.0 L703.6,1969.0 L701.7,1971.1 L694.1,1973.2 L681.3,1976.8 L678.2,1979.6 L676.9,1986.8 L671.8,1991.0 L668.6,1986.0 L670.5,1995.3 L665.4,2003.1 L662.3,1993.9 L662.9,2004.6 L666.7,2010.3 L668.0,2016.7 L660.4,2020.9 L652.7,2026.6 L644.5,2032.3 L634.9,2039.4 L631.1,2048.7 L631.7,2057.2 L636.8,2067.2 L640.0,2077.2 L638.1,2087.9 L633.6,2088.6 L628.6,2081.5 L622.2,2070.1 L622.8,2061.5 L614.6,2054.4 L605.0,2056.5 L598.7,2051.6 L585.9,2052.3 L579.6,2053.0 L580.9,2060.8 L573.2,2060.1 L565.0,2057.2 L552.2,2056.5 L544.6,2060.1 L535.1,2067.2 L529.3,2074.3 L530.6,2083.6 L517.9,2079.3 L515.3,2071.5 L507.7,2060.1 L496.9,2055.8 L491.8,2061.5 L483.5,2056.5 L471.5,2041.6 L460.6,2041.6 L460.6,2045.1 L442.8,2045.1 L418.7,2036.6 L404.0,2036.6 L401.5,2030.9 L395.1,2025.9 L381.8,2022.4 L373.5,2007.4 L369.7,1998.9 L361.4,1986.8 L358.3,1980.4 L359.5,1969.0 L357.0,1961.8 L360.2,1949.0 L360.2,1939.1 L355.7,1924.1 L366.5,1924.8 L370.3,1930.5 L367.8,1922.0Z" fill="#3fa2ae"/>
<path d="M678.2,1978.9 L690.9,1975.4 L687.7,1977.5Z" fill="#3fa2ae"/>
<path d="M156.6,2124.2 L163.6,2128.4 L159.2,2133.1 L156.6,2128.4Z" fill="#3fa2ae"/>
<path d="M152.2,2118.5 L156.6,2119.2 L154.1,2121.3Z" fill="#3fa2ae"/>
<path d="M142.6,2114.2 L145.8,2114.9 L143.9,2116.3Z" fill="#3fa2ae"/>
<path d="M404.0,2036.6 L418.7,2036.6 L442.8,2045.1 L460.6,2045.1 L460.6,2041.6 L471.5,2041.6 L483.5,2056.5 L491.8,2061.5 L496.9,2055.8 L507.7,2060.1 L515.3,2071.5 L517.9,2079.3 L530.6,2083.6 L527.4,2093.6 L526.8,2107.8 L530.0,2119.9 L536.3,2130.6 L543.3,2134.9 L549.1,2138.4 L558.6,2136.3 L566.9,2136.3 L571.9,2129.9 L573.9,2119.9 L585.9,2114.9 L595.5,2114.9 L596.8,2119.9 L591.7,2128.4 L589.1,2136.3 L587.2,2136.3 L582.1,2140.6 L570.0,2141.3 L570.0,2145.5 L573.9,2151.2 L565.6,2153.4 L562.4,2164.0 L554.1,2156.9 L546.5,2152.7 L536.3,2156.2 L525.5,2152.7 L514.1,2148.4 L501.4,2141.3 L490.5,2137.7 L481.0,2129.9 L477.2,2122.8 L479.1,2114.9 L474.6,2105.7 L465.1,2095.7 L455.6,2086.4 L453.0,2078.6 L446.0,2072.9 L437.8,2062.9 L431.4,2053.0 L428.8,2045.9 L419.3,2041.6 L418.7,2050.1 L423.8,2060.1 L431.4,2070.1 L439.0,2081.5 L444.7,2093.6 L452.4,2102.8 L449.2,2105.0 L442.8,2097.1 L435.2,2091.4 L434.6,2082.9 L423.8,2075.8 L422.5,2070.1 L417.4,2066.5 L422.5,2063.7 L412.9,2054.4 L406.6,2043.0Z" fill="#3fa2ae"/>
<path d="M562.4,2164.0 L565.6,2153.4 L573.9,2151.2 L570.0,2145.5 L570.0,2141.3 L582.1,2140.6 L581.5,2154.8 L587.2,2156.2 L581.5,2162.6 L580.2,2165.5 L575.8,2169.7 L568.1,2169.0Z" fill="#b5d2af"/>
<path d="M582.1,2140.6 L587.2,2136.3 L588.5,2143.4 L583.4,2154.8 L581.5,2154.8Z" fill="#3fa2ae"/>
<path d="M575.8,2169.7 L580.2,2165.5 L585.9,2168.3 L591.0,2169.0 L590.4,2173.3 L584.0,2174.0Z" fill="#72b0a7"/>
<path d="M581.5,2162.6 L587.2,2156.2 L592.3,2154.8 L601.8,2154.8 L611.4,2154.8 L619.6,2161.2 L609.5,2162.6 L603.1,2169.0 L596.8,2169.7 L593.6,2175.4 L590.4,2173.3 L591.0,2169.0 L585.9,2168.3 L580.2,2165.5Z" fill="#72b0a7"/>
<path d="M593.6,2175.4 L596.8,2169.7 L603.1,2169.0 L609.5,2162.6 L619.6,2161.2 L617.7,2171.9 L616.5,2184.0 L616.5,2190.4 L609.5,2189.7 L603.7,2189.0 L598.7,2184.0 L591.7,2176.2Z" fill="#72b0a7"/>
<path d="M603.7,2189.0 L609.5,2189.7 L616.5,2190.4 L623.5,2199.6 L621.6,2210.3 L616.5,2206.8 L610.1,2199.6 L603.1,2196.8Z" fill="#72b0a7"/>
<path d="M621.6,2210.3 L623.5,2199.6 L633.6,2205.3 L642.5,2199.6 L652.7,2201.8 L657.2,2206.1 L655.9,2214.6 L650.8,2211.8 L643.2,2204.6 L638.1,2208.9 L638.7,2216.0 L633.6,2216.0 L629.2,2211.0Z" fill="#72b0a7"/>
<path d="M608.8,2112.1 L620.9,2104.2 L633.6,2103.5 L646.4,2108.5 L659.1,2114.2 L668.6,2120.6 L676.9,2124.2 L668.6,2126.3 L654.6,2127.0 L657.8,2121.3 L649.5,2118.5 L636.8,2111.4 L627.3,2108.5 L617.7,2109.9Z" fill="#72b0a7"/>
<path d="M675.6,2135.6 L683.2,2126.3 L692.2,2127.7 L692.8,2139.8 L681.3,2138.4Z" fill="#72b0a7"/>
<path d="M692.2,2127.7 L703.6,2127.7 L713.8,2135.6 L703.6,2137.7 L692.8,2139.8Z" fill="#72b0a7"/>
<path d="M650.8,2137.0 L663.5,2138.4 L659.1,2141.3Z" fill="#3fa2ae"/>
<path d="M721.4,2136.3 L730.9,2137.0 L729.0,2140.2 L721.4,2139.8Z" fill="#3fa2ae"/>
<path d="M650.8,2088.6 L654.6,2095.0 L652.7,2095.7Z" fill="#72b0a7"/>
<path d="M755.8,2191.8 L760.8,2191.1 L760.8,2196.1 L755.8,2196.1Z" fill="#72b0a7"/>
<path d="M684.5,1711.2 L716.3,1705.5 L735.4,1698.4 L754.5,1689.9 L799.0,1682.7 L862.6,1678.5 L938.9,1672.8 L989.8,1677.0 L1021.6,1684.2 L1059.8,1686.3 L1072.5,1691.3 L1034.3,1698.4 L1028.0,1709.1 L1015.2,1719.8 L1028.0,1730.4 L1015.2,1741.1 L996.2,1751.8 L1008.9,1758.9 L993.0,1769.6 L1002.5,1771.0 L983.4,1780.3 L958.0,1783.1 L938.9,1791.0 L913.5,1799.5 L894.4,1805.2 L884.9,1819.4 L875.3,1837.2 L869.0,1841.5 L856.2,1836.5 L840.3,1832.3 L830.8,1823.0 L821.3,1812.3 L808.5,1798.1 L806.6,1787.4 L824.4,1776.7 L805.4,1773.2 L799.0,1766.0 L802.2,1755.4 L792.6,1744.7 L779.9,1734.0 L760.8,1726.9 L729.0,1726.9 L697.2,1719.8Z" fill="#72b0a7"/>
<path d="M657.2,2206.1 L660.4,2211.0 L668.0,2201.1 L671.8,2191.1 L676.9,2188.3 L687.7,2184.0 L695.3,2179.7 L695.3,2184.0 L687.7,2190.4 L684.5,2200.4 L688.3,2208.2 L689.0,2216.0 L700.4,2218.2 L707.4,2224.6 L719.5,2223.9 L717.6,2236.0 L720.8,2244.5 L722.0,2255.2 L723.3,2259.5 L704.9,2255.9 L708.1,2263.7 L703.6,2268.0 L706.8,2274.4 L704.2,2297.9 L699.1,2295.1 L685.2,2285.1 L675.6,2271.6 L669.3,2268.7 L656.5,2265.2 L647.0,2258.0 L649.5,2250.2 L657.8,2240.9 L655.9,2228.8 L656.5,2220.3 L655.9,2214.6Z" fill="#3fa2ae"/>
<path d="M695.3,2179.7 L695.3,2184.0 L687.7,2190.4 L684.5,2200.4 L688.3,2208.2 L689.0,2216.0 L700.4,2218.2 L707.4,2224.6 L719.5,2223.9 L717.6,2236.0 L720.8,2244.5 L722.0,2255.2 L723.3,2259.5 L732.2,2262.3 L741.8,2255.2 L745.6,2251.6 L741.8,2239.5 L750.0,2239.5 L760.8,2236.0 L762.7,2231.0 L758.3,2226.0 L760.2,2220.3 L765.3,2216.7 L768.5,2208.9 L759.6,2206.8 L760.8,2198.9 L751.3,2192.5 L739.9,2194.0 L729.0,2192.5 L715.0,2191.8 L713.8,2186.8 L703.6,2181.1 L702.3,2186.8 L694.7,2189.7 L693.4,2194.0 L691.5,2186.1Z" fill="#3fa2ae"/>
<path d="M768.5,2208.9 L765.3,2216.7 L760.2,2220.3 L758.3,2226.0 L762.7,2231.0 L767.2,2232.4 L768.5,2236.7 L770.4,2242.4 L767.8,2253.8 L774.8,2259.5 L784.4,2253.8 L783.1,2244.5 L779.9,2239.5 L785.0,2231.0 L785.0,2225.3 L776.7,2218.2Z" fill="#3fa2ae"/>
<path d="M785.0,2225.3 L785.0,2231.0 L779.9,2239.5 L783.1,2244.5 L784.4,2253.8 L792.6,2254.5 L801.5,2251.6 L805.4,2243.8 L802.8,2232.4 L805.4,2226.7 L793.3,2226.0Z" fill="#3fa2ae"/>
<path d="M805.4,2226.7 L802.8,2232.4 L805.4,2243.8 L801.5,2251.6 L812.4,2252.3 L820.0,2239.5 L816.2,2233.1Z" fill="#ffffff"/>
<path d="M647.0,2258.0 L656.5,2265.2 L669.3,2268.7 L670.5,2275.1 L661.6,2286.5 L651.4,2292.9 L648.3,2300.8 L642.5,2303.6 L637.5,2299.3 L638.1,2292.2 L640.6,2285.1 L634.3,2284.4 L634.3,2275.1 L639.4,2266.6 L640.0,2262.3Z" fill="#3fa2ae"/>
<path d="M638.1,2292.2 L637.5,2299.3 L642.5,2303.6 L648.3,2300.8 L651.4,2292.9 L661.6,2286.5 L670.5,2275.1 L669.3,2268.7 L675.6,2271.6 L685.2,2285.1 L699.1,2295.1 L704.2,2297.9 L685.8,2305.0 L679.4,2320.0 L684.5,2333.5 L689.0,2335.6 L689.6,2339.2 L699.8,2335.6 L699.8,2346.3 L706.1,2346.3 L711.9,2357.0 L710.0,2365.5 L710.0,2376.9 L706.1,2381.9 L710.0,2384.8 L706.1,2391.2 L701.1,2398.7 L694.7,2391.9 L681.3,2384.1 L670.5,2376.9 L663.5,2367.0 L657.8,2354.2 L651.4,2340.6 L646.4,2326.4 L640.6,2316.4 L632.4,2310.7 L631.7,2299.3Z" fill="#72b0a7"/>
<path d="M706.1,2346.3 L711.9,2357.0 L710.0,2365.5 L710.0,2376.9 L706.1,2381.9 L710.0,2384.8 L706.1,2391.2 L706.8,2392.6 L710.0,2403.3 L713.1,2409.7 L715.0,2421.1 L721.4,2430.3 L727.1,2423.2 L739.9,2430.3 L748.1,2424.6 L750.7,2426.1 L752.6,2414.0 L755.8,2407.6 L772.9,2405.4 L778.6,2409.0 L783.1,2397.6 L778.0,2391.2 L777.4,2384.1 L765.9,2384.1 L764.0,2366.3 L754.5,2362.0 L746.2,2357.7 L739.2,2356.3 L732.9,2351.3 L733.5,2337.8 L725.2,2338.5 L714.4,2346.3Z" fill="#b5d2af"/>
<path d="M750.7,2426.1 L752.6,2414.0 L755.8,2407.6 L772.9,2405.4 L778.6,2409.0 L779.9,2425.4 L792.6,2426.8 L795.8,2438.2 L803.5,2438.9 L801.5,2450.3 L800.9,2456.7 L793.9,2463.1 L786.3,2463.1 L776.1,2461.0 L782.5,2449.6 L774.8,2444.6 L760.8,2437.5Z" fill="#3fa2ae"/>
<path d="M782.5,2483.0 L792.6,2488.0 L799.0,2490.9 L806.6,2496.6 L810.4,2500.8 L809.2,2507.9 L799.6,2516.5 L790.7,2516.5 L781.2,2513.6 L777.4,2509.4 L779.3,2502.2 L778.6,2495.1Z" fill="#72b0a7"/>
<path d="M820.0,2239.5 L812.4,2252.3 L801.5,2251.6 L792.6,2254.5 L784.4,2253.8 L774.8,2259.5 L767.8,2253.8 L770.4,2242.4 L768.5,2236.7 L767.2,2232.4 L762.7,2231.0 L760.8,2236.0 L750.0,2239.5 L741.8,2239.5 L745.6,2251.6 L741.8,2255.2 L732.2,2262.3 L723.3,2259.5 L704.9,2255.9 L708.1,2263.7 L703.6,2268.0 L706.8,2274.4 L704.2,2297.9 L685.8,2305.0 L679.4,2320.0 L684.5,2333.5 L689.0,2335.6 L689.6,2339.2 L699.8,2335.6 L699.8,2346.3 L706.1,2346.3 L714.4,2346.3 L725.2,2338.5 L733.5,2337.8 L732.9,2351.3 L739.2,2356.3 L746.2,2357.7 L754.5,2362.0 L764.0,2366.3 L765.9,2384.1 L777.4,2384.1 L778.0,2391.2 L783.1,2397.6 L778.6,2409.0 L779.9,2425.4 L792.6,2426.8 L795.8,2438.2 L803.5,2438.9 L801.5,2450.3 L806.6,2453.1 L807.3,2461.0 L793.9,2469.5 L782.5,2483.0 L792.6,2488.0 L799.0,2490.9 L806.6,2496.6 L810.4,2500.8 L809.2,2507.9 L816.8,2497.3 L826.3,2485.2 L837.8,2470.9 L840.3,2460.2 L839.7,2451.7 L849.9,2442.4 L862.6,2436.0 L872.1,2431.8 L881.7,2431.0 L888.0,2423.9 L892.5,2412.5 L897.6,2397.6 L900.8,2381.9 L900.8,2364.1 L910.3,2349.9 L919.8,2339.2 L926.2,2328.5 L927.5,2318.6 L924.3,2305.7 L913.5,2301.5 L903.9,2293.6 L894.4,2287.9 L883.0,2287.9 L869.0,2285.8 L865.1,2280.1 L853.1,2275.1 L843.5,2273.0 L840.3,2278.7 L830.8,2280.1 L827.6,2268.0 L831.4,2260.2 L824.4,2252.3 L824.4,2240.9Z" fill="#72b0a7"/>
<path d="M827.0,2269.4 L839.7,2270.1 L835.9,2278.0 L827.0,2278.7Z" fill="#72b0a7"/>
<path d="M721.4,2430.3 L727.1,2423.2 L739.9,2430.3 L748.1,2424.6 L750.7,2426.1 L760.8,2437.5 L774.8,2444.6 L782.5,2449.6 L776.1,2461.0 L786.3,2463.1 L793.9,2463.1 L800.9,2456.7 L801.5,2450.3 L806.6,2453.1 L807.3,2461.0 L793.9,2469.5 L782.5,2483.0 L778.6,2495.1 L779.3,2502.2 L777.4,2509.4 L784.4,2518.6 L784.4,2526.5 L781.2,2539.3 L768.5,2544.3 L753.8,2545.0 L752.6,2557.1 L735.4,2558.5 L734.8,2567.0 L743.7,2567.8 L738.6,2573.4 L733.5,2584.8 L719.5,2595.5 L729.0,2603.4 L730.3,2609.8 L718.9,2619.0 L710.0,2629.7 L713.8,2640.4 L703.6,2638.2 L690.9,2637.5 L689.0,2628.3 L681.3,2620.4 L687.7,2606.2 L692.8,2595.5 L694.1,2581.3 L690.9,2567.0 L692.2,2552.8 L696.0,2542.1 L697.2,2527.9 L701.1,2517.2 L704.2,2504.4 L700.4,2492.3 L703.6,2481.6 L704.9,2467.4 L713.1,2456.7 L713.8,2442.4 L722.7,2431.8Z" fill="#72b0a7"/>
<path d="M701.1,2398.7 L706.1,2391.2 L706.8,2392.6 L710.0,2403.3 L713.1,2409.7 L715.0,2421.1 L721.4,2430.3 L722.7,2431.8 L713.8,2442.4 L713.1,2456.7 L704.9,2467.4 L703.6,2481.6 L700.4,2492.3 L704.2,2504.4 L701.1,2517.2 L697.2,2527.9 L696.0,2542.1 L692.2,2552.8 L690.9,2567.0 L694.1,2581.3 L692.8,2595.5 L687.7,2606.2 L681.3,2620.4 L689.0,2628.3 L690.9,2637.5 L703.6,2638.2 L713.8,2640.4 L706.8,2642.5 L697.2,2651.1 L687.7,2648.9 L678.2,2641.8 L671.8,2631.1 L668.6,2613.3 L668.6,2600.5 L678.2,2592.0 L681.3,2577.7 L680.1,2565.6 L681.3,2549.2 L681.3,2532.9 L687.7,2520.8 L693.4,2506.5 L694.1,2488.7 L695.3,2474.5 L698.5,2460.2 L700.4,2446.0 L702.3,2424.6 L703.0,2410.4Z" fill="#72b0a7"/>
<path d="M676.9,2565.6 L682.0,2567.0 L680.7,2577.0 L675.6,2575.6Z" fill="#72b0a7" stroke-width="3.2"/>
<path d="M700.4,2643.2 L712.5,2643.2 L712.5,2658.9 L703.6,2661.0 L690.9,2656.0 L697.2,2652.5Z" fill="#72b0a7" stroke-width="3.2"/>
<path d="M712.5,2643.2 L719.5,2651.1 L734.1,2657.5 L725.9,2660.3 L712.5,2658.9Z" fill="#72b0a7" stroke-width="3.2"/>
<path d="M758.9,2636.1 L769.1,2633.3 L781.2,2635.4 L773.6,2640.4 L764.0,2639.7Z" fill="#22282b" stroke-width="3.2"/>
<path d="M993.0,1801.6 L1005.7,1795.2 L1021.6,1797.4 L1034.3,1796.7 L1047.0,1794.5 L1056.6,1796.7 L1062.9,1805.2 L1053.4,1810.2 L1031.1,1816.6 L1015.2,1813.7 L1004.4,1813.7 L1008.9,1809.5 L996.2,1805.9 L1008.9,1802.4Z" fill="#72b0a7"/>
<path d="M1218.8,1701.2 L1244.2,1699.1 L1263.3,1696.3 L1282.4,1698.4 L1320.5,1697.0 L1301.4,1703.4 L1282.4,1706.9 L1282.4,1712.6 L1266.5,1716.2 L1256.9,1721.9 L1244.2,1718.3 L1234.7,1712.6 L1221.9,1706.9Z" fill="#72b0a7" stroke-width="3.2"/>
<path d="M1219.4,1847.9 L1215.6,1845.8 L1209.2,1848.6 L1199.7,1854.3 L1193.3,1855.0 L1184.4,1850.1 L1181.9,1844.4 L1180.6,1833.7 L1181.2,1826.6 L1190.1,1820.9 L1202.9,1815.9 L1212.4,1810.9 L1221.9,1805.2 L1228.3,1798.1 L1234.7,1791.0 L1244.2,1783.8 L1253.7,1778.1 L1266.5,1771.7 L1282.4,1768.9 L1298.3,1763.9 L1312.9,1761.8 L1326.9,1762.5 L1346.0,1767.5 L1344.7,1771.0 L1332.6,1776.4 L1335.1,1773.2 L1326.2,1768.9 L1314.2,1771.7 L1307.2,1779.6 L1299.5,1778.9 L1285.5,1774.6 L1279.2,1776.4 L1276.0,1781.0 L1264.6,1780.3 L1253.7,1787.4 L1247.4,1795.9 L1241.0,1801.6 L1235.9,1808.8 L1226.4,1815.9 L1226.4,1830.1 L1230.2,1833.7 L1227.0,1840.8 L1223.8,1842.2Z" fill="#72b0a7"/>
<path d="M1219.4,1847.9 L1220.7,1852.9 L1225.1,1860.0 L1229.6,1867.9 L1231.5,1873.6 L1239.7,1872.8 L1241.0,1867.9 L1250.6,1867.9 L1253.7,1858.6 L1255.6,1850.8 L1263.3,1845.8 L1268.4,1840.8 L1258.8,1835.8 L1258.2,1826.6 L1263.3,1822.3 L1272.8,1815.9 L1282.4,1808.8 L1285.5,1802.4 L1295.1,1799.5 L1302.1,1799.5 L1299.5,1794.5 L1300.8,1787.4 L1297.6,1783.8 L1288.7,1780.3 L1279.2,1776.4 L1276.0,1781.0 L1264.6,1780.3 L1253.7,1787.4 L1247.4,1795.9 L1241.0,1801.6 L1235.9,1808.8 L1226.4,1815.9 L1226.4,1830.1 L1230.2,1833.7 L1227.0,1840.8 L1223.8,1842.2Z" fill="#72b0a7"/>
<path d="M1264.6,1861.4 L1269.6,1855.8 L1268.4,1860.0Z" fill="#72b0a7"/>
<path d="M1302.1,1799.5 L1309.7,1803.8 L1307.8,1808.8 L1295.1,1815.2 L1284.3,1820.9 L1284.3,1830.1 L1285.5,1836.5 L1293.8,1840.8 L1304.6,1840.8 L1314.2,1838.0 L1325.6,1837.2 L1333.2,1831.5 L1347.9,1821.6 L1339.6,1813.7 L1339.6,1805.2 L1337.7,1798.1 L1333.2,1791.0 L1339.6,1786.0 L1330.1,1780.3 L1332.6,1776.4 L1335.1,1773.2 L1326.2,1768.9 L1314.2,1771.7 L1307.2,1779.6 L1299.5,1778.9 L1285.5,1774.6 L1279.2,1776.4 L1288.7,1780.3 L1297.6,1783.8 L1300.8,1787.4 L1299.5,1794.5Z" fill="#2878ab"/>
<path d="M1203.5,1877.1 L1209.2,1877.8 L1211.1,1872.8 L1214.3,1867.9 L1218.1,1866.4 L1214.9,1862.2 L1216.2,1857.2 L1209.2,1860.7 L1201.6,1862.2 L1200.3,1869.3 L1200.3,1872.8Z" fill="#3fa2ae"/>
<path d="M1218.8,1871.4 L1228.3,1868.6 L1228.9,1874.3 L1225.1,1877.1 L1220.0,1875.0Z" fill="#3fa2ae"/>
<path d="M1211.8,1872.8 L1217.5,1872.8 L1216.9,1876.4 L1212.4,1875.7Z" fill="#3fa2ae"/>
<path d="M1112.5,1911.3 L1126.5,1909.9 L1139.3,1907.0 L1155.2,1904.9 L1158.3,1902.7 L1153.9,1900.6 L1159.6,1893.5 L1150.7,1890.6 L1149.4,1886.4 L1142.4,1879.2 L1138.6,1872.8 L1134.8,1869.3 L1129.7,1867.9 L1136.1,1862.2 L1137.4,1857.9 L1126.5,1857.2 L1123.4,1855.8 L1128.4,1850.8 L1117.0,1850.8 L1111.9,1856.5 L1113.2,1865.0 L1109.4,1867.1 L1113.8,1872.8 L1118.3,1877.1 L1126.5,1877.1 L1129.7,1883.5 L1129.7,1887.8 L1120.2,1888.5 L1122.1,1893.5 L1115.7,1899.2 L1128.4,1902.0 L1121.5,1904.9Z" fill="#72b0a7"/>
<path d="M1097.3,1880.0 L1102.4,1874.3 L1110.0,1875.0 L1113.8,1880.0 L1109.4,1882.8 L1102.4,1882.1Z" fill="#72b0a7"/>
<path d="M1109.4,1882.8 L1110.6,1888.5 L1109.4,1896.3 L1097.9,1899.9 L1086.5,1901.3 L1083.3,1896.3 L1089.7,1889.2 L1085.2,1882.1 L1094.7,1880.7 L1093.5,1876.4 L1102.4,1874.3 L1097.3,1880.0 L1102.4,1882.1Z" fill="#2878ab"/>
<path d="M1101.1,1860.7 L1109.4,1851.5 L1107.5,1858.6Z" fill="#72b0a7" stroke-width="3.2"/>
<path d="M1138.6,1840.8 L1143.1,1835.1 L1142.4,1840.8Z" fill="#72b0a7" stroke-width="3.2"/>
<path d="M1101.7,1826.6 L1107.5,1824.4 L1106.2,1829.4Z" fill="#72b0a7" stroke-width="3.2"/>
<path d="M1137.4,1959.0 L1141.2,1950.4 L1141.8,1943.3 L1136.1,1934.8 L1131.0,1929.8 L1119.5,1927.0 L1118.9,1922.7 L1129.7,1920.5 L1138.6,1921.3 L1138.0,1914.1 L1141.2,1916.3 L1150.1,1915.6 L1158.3,1910.6 L1159.0,1905.6 L1165.0,1904.2 L1167.2,1907.0 L1175.5,1912.4 L1180.0,1913.4 L1185.7,1915.6 L1189.5,1915.6 L1201.0,1919.1 L1197.1,1929.1 L1193.3,1930.5 L1187.0,1939.1 L1192.7,1941.5 L1193.3,1946.2 L1191.4,1951.9 L1196.5,1956.1 L1192.7,1959.0 L1188.2,1961.1 L1180.6,1959.0 L1175.5,1958.3 L1169.2,1960.4 L1168.5,1966.1 L1160.2,1966.1 L1153.3,1963.3 L1144.3,1962.6Z" fill="#2878ab"/>
<path d="M1203.5,1966.1 L1208.6,1961.8 L1209.2,1969.0 L1207.3,1973.2 L1204.1,1971.1Z" fill="#2878ab"/>
<path d="M1137.4,1959.0 L1124.6,1958.3 L1111.9,1957.6 L1098.6,1956.1 L1090.3,1960.4 L1092.8,1969.7 L1096.6,1968.2 L1106.8,1969.3 L1109.4,1971.8 L1104.9,1976.1 L1104.9,1983.2 L1101.1,1986.0 L1104.3,1991.7 L1102.4,1997.4 L1101.1,2003.1 L1108.1,2005.3 L1110.6,2010.3 L1114.5,2011.7 L1120.8,2006.7 L1134.8,2006.7 L1138.0,2001.7 L1144.3,2000.3 L1148.8,1993.2 L1146.9,1986.8 L1153.3,1978.9 L1155.2,1976.1 L1162.8,1973.9 L1169.2,1969.7 L1168.5,1966.1 L1160.2,1966.1 L1153.3,1963.3 L1144.3,1962.6Z" fill="#2878ab"/>
<path d="M1092.8,1969.7 L1096.6,1968.2 L1106.8,1969.3 L1109.4,1971.8 L1104.9,1976.1 L1104.9,1983.2 L1101.1,1986.0 L1104.3,1991.7 L1102.4,1997.4 L1101.1,2003.1 L1092.2,2004.6 L1092.8,1994.6 L1088.4,1992.5 L1089.7,1987.5 L1092.8,1981.8 L1093.5,1976.1Z" fill="#17428f"/>
<path d="M1164.1,1986.0 L1170.4,1984.6 L1168.5,1988.2Z" fill="#2878ab"/>
<path d="M1165.0,1904.2 L1170.4,1902.4 L1176.1,1902.0 L1180.6,1901.7 L1185.7,1903.8 L1185.1,1906.3 L1187.0,1906.7 L1189.5,1909.9 L1187.6,1911.3 L1185.7,1915.6 L1180.0,1913.4 L1175.5,1912.4 L1167.2,1907.0Z" fill="#3fa2ae"/>
<path d="M1170.4,1902.4 L1173.6,1899.2 L1177.4,1895.6 L1179.3,1890.6 L1183.8,1888.5 L1193.3,1887.8 L1194.6,1889.2 L1193.6,1893.5 L1191.4,1894.2 L1193.3,1896.3 L1192.0,1898.5 L1187.0,1899.2 L1188.2,1902.0 L1187.0,1906.7 L1185.1,1906.3 L1185.7,1903.8 L1180.6,1901.7 L1176.1,1902.0Z" fill="#3fa2ae"/>
<path d="M1185.7,1915.6 L1189.5,1915.6 L1187.6,1911.3Z" fill="#3fa2ae"/>
<path d="M1194.6,1889.2 L1194.6,1885.7 L1202.9,1886.4 L1205.4,1883.5 L1203.5,1877.1 L1209.2,1877.8 L1212.4,1880.0 L1218.8,1883.5 L1228.3,1880.7 L1234.7,1880.0 L1239.1,1884.2 L1240.4,1889.2 L1238.5,1892.1 L1242.3,1897.0 L1242.3,1900.6 L1244.2,1904.9 L1239.7,1904.9 L1236.6,1907.0 L1227.0,1910.6 L1228.3,1912.7 L1236.6,1920.5 L1231.5,1924.1 L1231.5,1929.8 L1226.4,1928.4 L1215.6,1929.8 L1209.9,1929.8 L1203.5,1928.4 L1197.1,1929.1 L1201.0,1919.1 L1189.5,1915.6 L1187.6,1911.3 L1189.5,1909.9 L1187.0,1906.7 L1188.2,1902.0 L1187.0,1899.2 L1192.0,1898.5 L1193.3,1896.3 L1191.4,1894.2 L1193.6,1893.5Z" fill="#3fa2ae"/>
<path d="M1187.0,1939.1 L1193.3,1930.5 L1197.1,1929.1 L1203.5,1928.4 L1209.9,1929.8 L1209.2,1932.6 L1214.9,1934.1 L1214.9,1936.9 L1207.9,1937.6 L1206.0,1941.2 L1202.2,1938.3 L1199.0,1941.2 L1192.7,1941.5Z" fill="#72b0a7"/>
<path d="M1209.9,1929.8 L1215.6,1929.8 L1226.4,1928.4 L1231.5,1929.8 L1231.5,1924.1 L1236.6,1920.5 L1244.2,1919.1 L1256.3,1921.3 L1257.6,1926.2 L1253.7,1929.8 L1251.2,1934.1 L1244.2,1936.2 L1235.9,1936.9 L1227.7,1935.5 L1225.8,1933.4 L1214.9,1934.1 L1209.2,1932.6Z" fill="#3fa2ae"/>
<path d="M1196.5,1956.1 L1191.4,1951.9 L1193.3,1946.2 L1192.7,1941.5 L1199.0,1941.2 L1202.2,1938.3 L1206.0,1941.2 L1207.9,1937.6 L1214.9,1936.9 L1214.9,1934.1 L1225.8,1933.4 L1227.7,1935.5 L1235.9,1936.9 L1235.9,1942.6 L1227.0,1945.5 L1227.7,1952.6 L1235.3,1958.3 L1239.1,1966.1 L1250.6,1969.7 L1250.6,1973.2 L1266.5,1982.5 L1265.2,1984.6 L1256.9,1979.6 L1254.4,1985.3 L1257.6,1990.3 L1253.7,1994.6 L1248.7,1997.4 L1250.6,1990.3 L1248.7,1983.2 L1241.0,1978.9 L1237.8,1976.1 L1227.7,1971.1 L1218.8,1966.1 L1214.3,1958.3 L1207.3,1952.6 L1201.0,1954.7Z" fill="#3fa2ae"/>
<path d="M1228.3,1997.4 L1248.0,1995.3 L1244.8,2006.7 L1228.3,2000.3Z" fill="#3fa2ae"/>
<path d="M1201.0,1976.8 L1207.3,1974.7 L1211.1,1979.6 L1209.9,1988.9 L1202.9,1990.3 L1202.2,1983.2Z" fill="#3fa2ae"/>
<path d="M1227.0,1910.6 L1236.6,1907.0 L1239.7,1904.9 L1244.2,1904.9 L1252.5,1907.7 L1256.3,1909.2 L1260.7,1910.6 L1268.4,1915.6 L1263.3,1919.1 L1256.3,1921.3 L1244.2,1919.1 L1236.6,1920.5 L1228.3,1912.7Z" fill="#2878ab"/>
<path d="M1239.1,1884.2 L1250.6,1881.4 L1263.3,1877.8 L1266.5,1880.7 L1273.5,1880.7 L1293.8,1880.7 L1298.3,1883.5 L1300.8,1892.8 L1298.9,1897.0 L1298.9,1900.6 L1302.1,1905.6 L1293.2,1917.7 L1291.9,1918.4 L1282.4,1916.3 L1274.7,1917.7 L1268.4,1915.6 L1260.7,1910.6 L1256.3,1909.2 L1252.5,1907.7 L1244.2,1904.9 L1242.3,1900.6 L1242.3,1897.0 L1238.5,1892.1 L1240.4,1889.2Z" fill="#3fa2ae"/>
<path d="M1256.3,1921.3 L1263.3,1919.1 L1268.4,1915.6 L1274.7,1917.7 L1282.4,1916.3 L1291.9,1918.4 L1289.4,1923.4 L1279.2,1922.7 L1268.4,1927.7 L1257.6,1926.2Z" fill="#2878ab"/>
<path d="M1251.2,1934.1 L1253.7,1929.8 L1257.6,1926.2 L1268.4,1927.7 L1279.2,1922.7 L1289.4,1923.4 L1294.4,1926.2 L1283.6,1938.3 L1277.9,1939.8 L1268.4,1941.2 L1258.8,1941.2 L1253.1,1936.9Z" fill="#2878ab"/>
<path d="M1235.9,1942.6 L1235.9,1936.9 L1244.2,1936.2 L1251.2,1934.1 L1253.1,1936.9 L1246.1,1944.0 L1235.3,1944.0Z" fill="#3fa2ae"/>
<path d="M1235.3,1944.0 L1246.1,1944.0 L1253.1,1936.9 L1258.8,1941.2 L1268.4,1941.2 L1269.6,1947.6 L1256.9,1946.2 L1249.3,1946.2 L1250.6,1954.7 L1260.7,1961.8 L1266.5,1966.1 L1256.9,1961.8 L1245.5,1953.3 L1241.0,1946.2 L1235.3,1947.6Z" fill="#2878ab"/>
<path d="M1249.3,1946.2 L1256.9,1946.2 L1269.6,1947.6 L1272.2,1952.6 L1272.8,1958.3 L1266.5,1964.7 L1266.5,1966.1 L1260.7,1961.8 L1250.6,1954.7Z" fill="#2878ab"/>
<path d="M1269.6,1947.6 L1268.4,1941.2 L1277.9,1939.8 L1285.5,1946.2 L1291.9,1950.4 L1293.2,1953.3 L1291.3,1961.8 L1291.3,1966.8 L1286.2,1967.5 L1279.8,1969.7 L1276.6,1964.7 L1277.9,1962.6 L1271.5,1959.0 L1272.8,1958.3 L1272.2,1952.6Z" fill="#17428f"/>
<path d="M1266.5,1966.1 L1266.5,1964.7 L1272.8,1958.3 L1271.5,1959.0 L1277.9,1962.6 L1276.6,1964.7 L1272.2,1969.7Z" fill="#3fa2ae"/>
<path d="M1272.2,1969.7 L1276.6,1964.7 L1279.8,1969.7 L1282.4,1977.5 L1277.3,1985.3 L1272.2,1980.4Z" fill="#72b0a7"/>
<path d="M1279.8,1969.7 L1286.2,1967.5 L1291.3,1966.8 L1295.1,1973.9 L1288.7,1975.4 L1282.4,1977.5Z" fill="#b5d2af"/>
<path d="M1277.3,1985.3 L1282.4,1977.5 L1288.7,1975.4 L1295.1,1973.9 L1304.6,1972.5 L1316.1,1971.1 L1314.2,1976.8 L1301.4,1977.5 L1298.3,1981.8 L1293.2,1980.4 L1294.4,1988.2 L1301.4,1996.0 L1295.1,1998.2 L1295.7,2008.1 L1290.6,2008.1 L1286.8,2006.0 L1284.3,1998.9 L1283.0,1994.6 L1280.5,1991.0Z" fill="#3fa2ae"/>
<path d="M1298.3,2015.2 L1316.1,2016.7 L1306.5,2019.5Z" fill="#3fa2ae"/>
<path d="M1293.2,1953.3 L1301.4,1956.9 L1314.2,1955.4 L1321.8,1954.0 L1330.7,1956.9 L1326.2,1963.3 L1326.9,1969.0 L1316.1,1971.1 L1304.6,1972.5 L1295.1,1973.9 L1291.3,1966.8 L1291.3,1961.8Z" fill="#3fa2ae"/>
<path d="M1277.9,1939.8 L1283.6,1938.3 L1294.4,1926.2 L1304.6,1927.0 L1318.0,1924.8 L1327.5,1934.1 L1328.2,1944.0 L1337.1,1945.5 L1330.7,1956.9 L1321.8,1954.0 L1314.2,1955.4 L1301.4,1956.9 L1293.2,1953.3 L1291.9,1950.4 L1285.5,1946.2Z" fill="#17428f"/>
<path d="M1318.0,1924.8 L1326.9,1924.1 L1334.5,1927.0 L1339.6,1937.6 L1332.6,1940.5 L1328.2,1944.0 L1327.5,1934.1Z" fill="#2878ab"/>
<path d="M1289.4,1923.4 L1291.9,1918.4 L1293.2,1917.7 L1302.1,1905.6 L1298.9,1900.6 L1307.8,1898.5 L1323.7,1901.3 L1342.8,1902.7 L1351.0,1897.0 L1363.8,1894.9 L1374.6,1904.9 L1377.8,1909.9 L1390.5,1912.7 L1403.8,1914.8 L1401.9,1926.2 L1392.4,1932.6 L1380.9,1935.5 L1371.4,1939.1 L1373.3,1945.5 L1380.9,1944.8 L1372.7,1948.3 L1362.5,1951.9 L1355.5,1944.8 L1362.5,1939.8 L1352.3,1939.1 L1344.7,1936.9 L1337.1,1945.5 L1328.2,1944.0 L1332.6,1940.5 L1339.6,1937.6 L1334.5,1927.0 L1326.9,1924.1 L1318.0,1924.8 L1304.6,1927.0 L1294.4,1926.2Z" fill="#17428f"/>
<path d="M1298.9,1900.6 L1298.9,1897.0 L1300.8,1892.8 L1298.3,1883.5 L1311.0,1882.1 L1318.0,1871.4 L1328.2,1868.6 L1345.3,1872.1 L1346.0,1878.5 L1356.8,1887.8 L1351.0,1897.0 L1342.8,1902.7 L1323.7,1901.3 L1307.8,1898.5Z" fill="#17428f"/>
<path d="M1282.4,1874.3 L1282.7,1868.6 L1307.2,1866.4 L1318.0,1871.4 L1311.0,1882.1 L1298.3,1883.5 L1293.8,1880.7 L1293.8,1876.4Z" fill="#17428f"/>
<path d="M1282.7,1868.6 L1283.0,1862.2 L1286.8,1857.9 L1292.5,1857.2 L1296.4,1862.2 L1303.3,1860.7 L1304.0,1855.8 L1311.6,1855.0 L1323.1,1858.6 L1325.6,1862.9 L1328.2,1868.6 L1318.0,1871.4 L1307.2,1866.4Z" fill="#2878ab"/>
<path d="M1304.0,1855.8 L1298.3,1850.1 L1298.3,1846.5 L1311.0,1843.6 L1326.9,1844.4 L1323.1,1850.1 L1325.0,1855.8 L1323.1,1858.6 L1311.6,1855.0Z" fill="#17428f"/>
<path d="M1288.1,1852.9 L1295.1,1850.8 L1293.8,1854.3Z" fill="#17428f"/>
<path d="M1273.5,1880.7 L1276.0,1876.4 L1282.4,1874.3 L1293.8,1876.4 L1293.8,1880.7Z" fill="#2878ab"/>
<path d="M1344.7,1771.0 L1358.7,1773.9 L1377.8,1776.7 L1409.6,1786.0 L1409.6,1794.5 L1390.5,1797.4 L1368.2,1793.8 L1357.4,1791.0 L1361.9,1795.9 L1370.1,1809.5 L1384.1,1813.0 L1390.5,1808.0 L1406.4,1808.0 L1403.2,1799.5 L1415.9,1795.2 L1428.6,1796.7 L1427.4,1787.4 L1424.2,1779.6 L1441.4,1783.8 L1444.5,1791.0 L1454.1,1786.0 L1485.9,1780.3 L1495.4,1782.4 L1524.0,1776.7 L1536.8,1771.0 L1532.3,1779.6 L1555.8,1775.3 L1573.6,1781.7 L1584.5,1781.0 L1574.9,1773.2 L1574.9,1762.5 L1584.5,1749.7 L1594.0,1746.8 L1609.9,1750.4 L1611.8,1762.5 L1606.7,1776.7 L1616.3,1780.3 L1605.4,1795.2 L1619.4,1787.4 L1624.5,1776.7 L1619.4,1762.5 L1629.0,1753.9 L1644.9,1753.2 L1660.8,1756.8 L1660.8,1744.7 L1695.8,1741.1 L1702.1,1734.0 L1733.9,1727.6 L1772.1,1724.7 L1810.2,1714.8 L1829.3,1721.2 L1861.1,1723.3 L1870.7,1730.4 L1848.4,1741.1 L1823.0,1746.8 L1867.5,1743.3 L1905.6,1747.5 L1934.3,1744.0 L1956.5,1745.4 L1972.4,1755.4 L1972.4,1760.3 L1988.3,1758.9 L2001.0,1759.6 L2020.1,1758.9 L2039.2,1751.8 L2077.4,1753.2 L2102.8,1758.2 L2121.9,1763.2 L2160.0,1763.9 L2166.4,1771.7 L2191.8,1771.7 L2217.3,1769.6 L2233.2,1776.7 L2236.4,1769.6 L2268.2,1771.0 L2293.6,1776.7 L2293.6,1805.2 L2280.9,1809.5 L2277.7,1807.3 L2277.7,1823.0 L2290.4,1824.4 L2255.4,1828.0 L2233.2,1840.8 L2204.6,1842.2 L2188.7,1851.5 L2179.1,1856.5 L2185.5,1867.9 L2179.1,1877.8 L2166.4,1889.2 L2156.9,1897.8 L2145.4,1904.9 L2141.0,1894.2 L2137.8,1876.4 L2144.1,1862.2 L2160.0,1851.5 L2175.9,1839.4 L2188.7,1830.1 L2169.6,1828.0 L2163.2,1828.7 L2144.1,1830.1 L2131.4,1844.4 L2115.5,1847.9 L2096.4,1844.4 L2071.0,1845.1 L2055.1,1846.5 L2039.2,1857.2 L2026.5,1865.7 L2008.7,1877.1 L2023.3,1883.5 L2032.8,1882.1 L2045.6,1888.5 L2048.1,1896.3 L2042.4,1904.9 L2042.4,1919.1 L2032.8,1929.8 L2026.5,1940.5 L2013.8,1951.2 L1997.9,1962.6 L1988.3,1960.4 L1982.0,1964.7 L1980.1,1966.8 L1979.4,1962.6 L1983.2,1958.3 L1982.0,1948.3 L1994.7,1946.9 L2005.5,1924.1 L1982.0,1928.4 L1978.8,1919.8 L1959.7,1913.4 L1950.2,1893.5 L1934.3,1887.1 L1917.1,1888.5 L1912.0,1899.9 L1898.0,1915.6 L1891.0,1913.4 L1873.8,1910.6 L1848.4,1917.7 L1829.3,1909.9 L1799.4,1907.7 L1798.8,1902.7 L1777.8,1897.0 L1774.0,1908.4 L1765.7,1912.7 L1750.5,1912.0 L1733.9,1907.0 L1713.6,1915.6 L1704.0,1918.4 L1690.7,1914.8 L1676.7,1904.9 L1657.6,1906.3 L1644.2,1888.5 L1635.3,1882.1 L1615.6,1884.2 L1601.6,1882.1 L1587.6,1874.3 L1563.5,1881.4 L1536.8,1884.2 L1539.9,1897.8 L1538.0,1906.3 L1521.5,1904.9 L1503.1,1907.7 L1482.7,1901.3 L1471.9,1899.9 L1458.5,1907.7 L1446.4,1923.4 L1449.6,1927.7 L1457.9,1936.2 L1461.7,1938.3 L1450.9,1943.3 L1449.6,1954.7 L1450.9,1961.8 L1457.3,1970.4 L1444.5,1969.7 L1435.0,1964.0 L1427.4,1964.7 L1403.2,1959.0 L1393.7,1952.6 L1386.0,1946.2 L1391.8,1939.1 L1398.1,1932.6 L1392.4,1932.6 L1401.9,1926.2 L1403.8,1914.8 L1390.5,1912.7 L1377.8,1909.9 L1374.6,1904.9 L1363.8,1894.9 L1351.0,1897.0 L1356.8,1887.8 L1346.0,1878.5 L1345.3,1872.1 L1328.2,1868.6 L1325.6,1862.9 L1323.1,1858.6 L1325.0,1855.8 L1323.1,1850.1 L1326.9,1844.4 L1333.2,1840.8 L1340.9,1841.5 L1330.1,1836.5 L1325.6,1837.2 L1333.2,1831.5 L1347.9,1821.6 L1339.6,1813.7 L1339.6,1805.2 L1337.7,1798.1 L1333.2,1791.0 L1339.6,1786.0 L1330.1,1780.3 L1332.6,1776.4Z" fill="#2878ab"/>
<path d="M4.0,1776.7 L23.1,1782.4 L48.5,1791.0 L67.6,1796.7 L54.9,1809.5 L32.6,1808.8 L16.7,1801.6 L4.0,1805.2Z" fill="#2878ab"/>
<path d="M1479.5,1756.4 L1503.7,1734.0 L1529.1,1724.0 L1566.0,1718.3 L1590.2,1719.8 L1588.3,1724.0 L1557.1,1729.7 L1525.9,1739.7 L1508.1,1750.7 L1506.2,1758.9 L1517.7,1764.6 L1498.0,1763.2Z" fill="#2878ab" stroke-width="3.2"/>
<path d="M2051.9,1881.4 L2060.2,1894.2 L2059.6,1915.6 L2067.8,1919.1 L2058.3,1933.4 L2051.9,1940.5 L2051.9,1922.7 L2050.0,1901.3Z" fill="#2878ab"/>
<path d="M4.0,1758.9 L19.9,1761.1 L16.7,1763.2 L4.0,1763.2Z" fill="#2878ab"/>
<path d="M2284.1,1761.1 L2293.6,1758.9 L2293.6,1763.2 L2287.2,1763.9Z" fill="#2878ab"/>
<path d="M2020.1,1730.4 L2045.6,1726.9 L2071.0,1730.4 L2058.3,1734.7 L2032.8,1736.1Z" fill="#2878ab" stroke-width="3.2"/>
<path d="M2080.5,1731.9 L2106.0,1732.6 L2096.4,1736.1Z" fill="#2878ab" stroke-width="3.2"/>
<path d="M2039.2,1741.8 L2061.5,1744.7 L2045.6,1746.1Z" fill="#2878ab" stroke-width="3.2"/>
<path d="M1753.0,1705.5 L1784.8,1699.8 L1803.9,1704.1 L1788.0,1711.2 L1765.7,1710.5Z" fill="#2878ab" stroke-width="3.2"/>
<path d="M1733.9,1698.4 L1759.4,1689.9 L1772.1,1694.8 L1753.0,1699.8Z" fill="#2878ab" stroke-width="3.2"/>
<path d="M1456.0,1774.6 L1463.6,1773.2 L1465.5,1778.1 L1457.3,1778.9Z" fill="#2878ab"/>
<path d="M1441.4,1694.1 L1466.8,1692.0 L1473.2,1696.3 L1450.9,1697.7Z" fill="#2878ab" stroke-width="3.2"/>
<path d="M1485.9,1694.1 L1517.7,1689.1 L1543.1,1692.0 L1524.0,1697.0 L1498.6,1697.7Z" fill="#2878ab" stroke-width="3.2"/>
<path d="M1064.8,2070.8 L1075.7,2065.8 L1085.2,2058.7 L1087.1,2050.8 L1089.7,2036.6 L1101.1,2028.1 L1110.6,2017.4 L1111.3,2013.1 L1115.1,2012.4 L1123.4,2017.4 L1134.8,2018.1 L1138.0,2025.9 L1141.2,2038.0 L1129.7,2041.6 L1125.3,2048.0 L1115.7,2054.4 L1104.3,2058.0 L1093.5,2063.7 L1093.5,2070.8Z" fill="#f1f1c5"/>
<path d="M1064.8,2070.8 L1093.5,2070.8 L1093.5,2082.9 L1072.5,2082.9 L1072.5,2101.4 L1066.1,2104.2 L1066.1,2116.3 L1040.7,2116.3 L1040.7,2118.5 L1047.0,2099.3 L1054.7,2086.4 L1057.2,2080.7Z" fill="#ffffff"/>
<path d="M1040.7,2118.5 L1040.7,2116.3 L1066.1,2116.3 L1066.1,2104.2 L1072.5,2101.4 L1072.5,2082.9 L1093.5,2082.9 L1093.5,2073.6 L1118.3,2090.0 L1108.1,2090.0 L1113.8,2157.6 L1089.7,2157.6 L1075.7,2156.9 L1071.2,2162.6 L1064.2,2156.9 L1056.6,2149.8 L1043.9,2153.4 L1045.1,2129.2Z" fill="#f1f1c5"/>
<path d="M1134.8,2018.1 L1148.8,2012.4 L1167.9,2005.3 L1187.0,2004.6 L1203.5,2005.3 L1201.6,2018.8 L1196.5,2025.9 L1206.0,2040.2 L1209.2,2052.3 L1211.8,2068.6 L1208.6,2081.5 L1212.4,2093.6 L1225.1,2100.7 L1196.5,2119.2 L1185.7,2129.9 L1175.5,2132.0 L1169.2,2127.0 L1160.2,2123.5 L1118.3,2090.0 L1093.5,2073.6 L1093.5,2070.8 L1093.5,2063.7 L1104.3,2058.0 L1115.7,2054.4 L1125.3,2048.0 L1129.7,2041.6 L1141.2,2038.0 L1138.0,2025.9Z" fill="#f1f1c5"/>
<path d="M1203.5,2005.3 L1211.1,2002.4 L1218.8,2004.6 L1216.2,2015.2 L1212.4,2024.5 L1221.9,2031.6 L1221.3,2037.3 L1214.3,2042.3 L1209.2,2052.3 L1206.0,2040.2 L1196.5,2025.9 L1201.6,2018.8Z" fill="#f1f1c5"/>
<path d="M1221.9,2031.6 L1231.5,2033.8 L1246.1,2038.0 L1250.6,2045.9 L1263.3,2051.6 L1276.0,2048.0 L1276.0,2038.7 L1285.5,2033.8 L1296.4,2037.3 L1307.8,2042.3 L1307.8,2111.4 L1307.8,2125.6 L1301.4,2125.6 L1301.4,2129.2 L1250.6,2101.4 L1244.2,2104.2 L1239.1,2107.1 L1225.1,2100.7 L1212.4,2093.6 L1208.6,2081.5 L1211.8,2068.6 L1209.2,2052.3 L1214.3,2042.3 L1221.3,2037.3Z" fill="#f1f1c5"/>
<path d="M1307.8,2042.3 L1320.5,2044.4 L1333.2,2048.0 L1346.0,2043.7 L1354.2,2045.1 L1366.3,2045.1 L1370.8,2058.0 L1367.6,2068.6 L1366.3,2070.1 L1360.0,2064.4 L1356.1,2055.1 L1356.8,2062.9 L1361.9,2070.1 L1365.0,2077.9 L1374.6,2097.1 L1375.9,2104.2 L1383.5,2111.4 L1307.8,2111.4Z" fill="#f1f1c5"/>
<path d="M1307.8,2111.4 L1383.5,2111.4 L1385.4,2118.5 L1386.0,2132.7 L1394.3,2139.8 L1384.1,2147.0 L1380.9,2161.2 L1380.9,2166.2 L1378.4,2177.6 L1372.0,2184.0 L1366.9,2191.8 L1365.7,2200.4 L1364.4,2195.4 L1360.0,2191.1 L1360.0,2181.1 L1356.8,2181.1 L1354.2,2184.7 L1351.7,2193.2 L1346.0,2198.2 L1337.1,2197.5 L1332.0,2201.1 L1326.2,2199.6 L1317.3,2200.4 L1312.9,2194.0 L1306.5,2198.2 L1302.7,2206.1 L1298.3,2206.1 L1298.3,2196.8 L1294.4,2189.7 L1291.9,2178.3 L1288.1,2177.6 L1290.6,2172.6 L1292.5,2167.6 L1295.1,2156.2 L1301.4,2156.2 L1301.4,2129.2 L1301.4,2125.6 L1307.8,2125.6Z" fill="#b5d2af"/>
<path d="M1365.7,2200.4 L1364.4,2195.4 L1360.0,2191.1 L1360.0,2181.1 L1356.8,2181.1 L1354.2,2184.7 L1351.7,2193.2 L1346.0,2198.2 L1337.1,2197.5 L1332.0,2201.1 L1326.2,2199.6 L1317.3,2200.4 L1312.9,2194.0 L1306.5,2198.2 L1302.7,2206.1 L1309.1,2216.0 L1317.3,2225.3 L1323.1,2231.7 L1336.4,2236.0 L1344.7,2243.1 L1346.0,2241.7 L1361.9,2240.9 L1365.0,2238.1 L1377.1,2235.2 L1373.3,2229.6 L1369.5,2220.3 L1358.7,2211.8 L1365.7,2206.8Z" fill="#f1f1c5"/>
<path d="M1394.3,2139.8 L1401.3,2160.5 L1410.8,2164.8 L1422.9,2177.6 L1418.5,2179.0 L1403.2,2164.8 L1390.5,2163.3 L1387.3,2166.9 L1380.9,2166.2 L1380.9,2161.2 L1384.1,2147.0Z" fill="#f1f1c5"/>
<path d="M1422.9,2177.6 L1424.2,2186.1 L1421.6,2189.7 L1414.6,2189.7 L1418.5,2179.0Z" fill="#b5d2af"/>
<path d="M1378.4,2177.6 L1380.9,2166.2 L1387.3,2166.9 L1390.5,2163.3 L1403.2,2164.8 L1418.5,2179.0 L1414.6,2189.7 L1421.6,2189.7 L1420.4,2192.5 L1428.6,2203.9 L1447.7,2211.0 L1454.1,2211.0 L1435.0,2232.4 L1425.5,2233.8 L1415.9,2238.8 L1415.3,2239.7 L1408.3,2238.1 L1400.0,2243.1 L1391.1,2242.4 L1383.5,2236.7 L1377.1,2235.2 L1373.3,2229.6 L1369.5,2220.3 L1358.7,2211.8 L1365.7,2206.8 L1365.7,2200.4 L1366.9,2191.8 L1372.0,2184.0Z" fill="#b5d2af"/>
<path d="M1424.2,2186.1 L1431.8,2194.0 L1441.4,2191.1 L1454.1,2188.3 L1466.8,2186.1 L1475.1,2184.0 L1473.8,2194.0 L1471.9,2201.1 L1465.5,2212.5 L1457.3,2228.8 L1441.4,2250.2 L1428.6,2260.9 L1419.1,2271.6 L1413.4,2280.1 L1409.6,2274.4 L1409.6,2248.1 L1415.3,2239.7 L1415.9,2238.8 L1425.5,2233.8 L1435.0,2232.4 L1454.1,2211.0 L1447.7,2211.0 L1428.6,2203.9 L1420.4,2192.5 L1421.6,2189.7Z" fill="#f1f1c5"/>
<path d="M1413.4,2280.1 L1404.5,2287.9 L1398.1,2301.5 L1388.6,2293.6 L1387.9,2289.4 L1365.0,2275.1 L1364.4,2267.3 L1368.2,2260.2 L1371.4,2255.2 L1368.2,2243.1 L1365.0,2238.1 L1377.1,2235.2 L1383.5,2236.7 L1391.1,2242.4 L1400.0,2243.1 L1408.3,2238.1 L1415.3,2239.7 L1409.6,2248.1 L1409.6,2274.4Z" fill="#b5d2af"/>
<path d="M1365.0,2238.1 L1368.2,2243.1 L1371.4,2255.2 L1368.2,2260.2 L1364.4,2267.3 L1365.0,2275.1 L1342.8,2275.1 L1337.1,2278.0 L1337.1,2271.6 L1339.0,2263.7 L1340.9,2259.5 L1347.9,2252.3 L1344.7,2250.9 L1344.7,2243.1 L1346.0,2241.7 L1361.9,2240.9Z" fill="#72b0a7"/>
<path d="M1337.1,2278.0 L1342.8,2275.1 L1345.3,2284.4 L1342.8,2285.1 L1339.0,2287.2 L1333.2,2287.2 L1334.5,2279.4Z" fill="#72b0a7"/>
<path d="M1333.2,2287.2 L1339.0,2287.2 L1342.8,2285.1 L1344.7,2291.5 L1342.1,2296.5 L1335.8,2299.3 L1334.5,2291.5Z" fill="#2878ab"/>
<path d="M1398.1,2301.5 L1395.6,2310.7 L1400.0,2317.8 L1398.7,2327.1 L1401.9,2338.5 L1405.7,2342.0 L1393.7,2349.2 L1387.3,2351.3 L1377.8,2350.6 L1370.8,2349.9 L1365.0,2335.6 L1358.0,2334.9 L1346.0,2329.2 L1344.7,2327.1 L1337.1,2312.9 L1335.8,2299.3 L1342.1,2296.5 L1344.7,2291.5 L1342.8,2285.1 L1345.3,2284.4 L1342.8,2275.1 L1365.0,2275.1 L1387.9,2289.4 L1388.6,2293.6Z" fill="#72b0a7"/>
<path d="M1226.4,2309.3 L1227.0,2310.7 L1234.0,2310.0 L1254.4,2310.0 L1256.3,2320.0 L1260.7,2325.7 L1272.2,2325.0 L1272.8,2317.8 L1279.2,2317.8 L1287.4,2320.0 L1288.1,2335.6 L1290.0,2347.7 L1301.4,2345.6 L1304.0,2348.5 L1310.3,2350.6 L1314.2,2352.7 L1321.8,2352.0 L1329.4,2359.1 L1333.9,2363.4 L1338.3,2363.4 L1338.3,2354.9 L1330.1,2355.6 L1329.4,2346.3 L1331.3,2334.2 L1332.6,2328.5 L1344.7,2327.1 L1337.1,2312.9 L1335.8,2299.3 L1334.5,2291.5 L1333.2,2287.2 L1334.5,2279.4 L1337.1,2278.0 L1337.1,2271.6 L1339.0,2263.7 L1340.9,2259.5 L1347.9,2252.3 L1344.7,2250.9 L1344.7,2243.1 L1336.4,2236.0 L1323.1,2231.7 L1311.0,2230.3 L1304.0,2231.7 L1294.4,2233.8 L1291.3,2238.8 L1279.8,2236.7 L1272.8,2231.7 L1267.1,2237.4 L1267.1,2243.1 L1263.9,2250.9 L1262.0,2260.9 L1261.4,2271.6 L1251.8,2282.2 L1251.8,2289.4 L1249.9,2295.8 L1245.5,2298.6 L1240.4,2302.9 L1235.9,2301.5 L1232.1,2300.8Z" fill="#b5d2af"/>
<path d="M1225.1,2303.6 L1226.4,2309.3 L1232.1,2300.8 L1230.2,2299.3Z" fill="#b5d2af"/>
<path d="M1219.4,2295.8 L1225.1,2303.6 L1230.2,2299.3 L1232.1,2300.8 L1235.9,2301.5 L1240.4,2302.9 L1245.5,2298.6 L1249.9,2295.8 L1251.8,2289.4 L1251.8,2282.2 L1261.4,2271.6 L1262.0,2260.9 L1263.9,2250.9 L1267.1,2243.1 L1260.1,2242.4 L1254.4,2243.1 L1251.8,2252.3 L1244.2,2253.8 L1233.4,2252.3 L1232.8,2258.7 L1239.1,2258.0 L1241.0,2271.6 L1237.2,2275.1 L1240.4,2281.5 L1240.4,2285.1 L1231.5,2285.1 L1228.3,2291.5 L1222.6,2285.1Z" fill="#b5d2af"/>
<path d="M1219.4,2295.8 L1209.9,2285.1 L1204.8,2273.0 L1207.9,2265.9 L1209.9,2260.9 L1220.7,2260.9 L1220.7,2252.3 L1233.4,2252.3 L1232.8,2258.7 L1239.1,2258.0 L1241.0,2271.6 L1237.2,2275.1 L1240.4,2281.5 L1240.4,2285.1 L1231.5,2285.1 L1228.3,2291.5 L1222.6,2285.1Z" fill="#72b0a7"/>
<path d="M1209.9,2260.9 L1211.1,2251.6 L1220.7,2252.3 L1220.7,2260.9Z" fill="#72b0a7"/>
<path d="M1211.1,2251.6 L1209.9,2240.2 L1205.4,2235.2 L1202.9,2234.5 L1207.3,2223.9 L1213.7,2218.9 L1221.9,2221.0 L1226.4,2214.6 L1230.2,2206.8 L1236.6,2189.7 L1241.7,2186.1 L1239.1,2179.7 L1238.5,2175.4 L1244.2,2182.6 L1244.8,2191.1 L1247.4,2197.5 L1237.8,2198.9 L1247.4,2214.6 L1241.0,2225.3 L1241.7,2232.4 L1249.9,2246.6 L1251.8,2252.3 L1244.2,2253.8 L1233.4,2252.3 L1220.7,2252.3Z" fill="#72b0a7"/>
<path d="M1247.4,2214.6 L1255.6,2213.9 L1263.3,2211.0 L1269.6,2203.9 L1278.5,2203.2 L1286.8,2192.5 L1294.4,2189.7 L1298.3,2196.8 L1298.3,2206.1 L1302.7,2206.1 L1309.1,2216.0 L1317.3,2225.3 L1323.1,2231.7 L1311.0,2230.3 L1304.0,2231.7 L1294.4,2233.8 L1291.3,2238.8 L1279.8,2236.7 L1272.8,2231.7 L1267.1,2237.4 L1267.1,2243.1 L1260.1,2242.4 L1254.4,2243.1 L1251.8,2252.3 L1249.9,2246.6 L1241.7,2232.4 L1241.0,2225.3Z" fill="#b5d2af"/>
<path d="M1238.5,2175.4 L1235.3,2170.5 L1247.4,2147.7 L1249.9,2122.8 L1244.2,2104.2 L1250.6,2101.4 L1301.4,2129.2 L1301.4,2156.2 L1295.1,2156.2 L1292.5,2167.6 L1290.6,2172.6 L1288.1,2177.6 L1291.9,2178.3 L1294.4,2189.7 L1286.8,2192.5 L1278.5,2203.2 L1269.6,2203.9 L1263.3,2211.0 L1255.6,2213.9 L1247.4,2214.6 L1237.8,2198.9 L1247.4,2197.5 L1244.8,2191.1 L1244.2,2182.6Z" fill="#b5d2af"/>
<path d="M1235.3,2170.5 L1228.3,2174.7 L1217.5,2172.6 L1206.0,2176.9 L1198.4,2173.3 L1192.0,2174.7 L1183.1,2169.0 L1174.9,2171.9 L1171.7,2184.7 L1166.6,2179.7 L1164.1,2183.3 L1162.2,2177.6 L1155.2,2172.6 L1150.1,2161.2 L1157.1,2159.1 L1171.1,2158.4 L1175.5,2147.7 L1175.5,2132.0 L1185.7,2129.9 L1196.5,2119.2 L1225.1,2100.7 L1239.1,2107.1 L1244.2,2104.2 L1249.9,2122.8 L1247.4,2147.7Z" fill="#f1f1c5"/>
<path d="M1166.0,2222.4 L1177.4,2223.1 L1183.8,2235.2 L1187.0,2237.4 L1196.5,2236.7 L1202.9,2234.5 L1207.3,2223.9 L1213.7,2218.9 L1221.9,2221.0 L1226.4,2214.6 L1230.2,2206.8 L1236.6,2189.7 L1241.7,2186.1 L1239.1,2179.7 L1238.5,2175.4 L1235.3,2170.5 L1228.3,2174.7 L1217.5,2172.6 L1206.0,2176.9 L1198.4,2173.3 L1192.0,2174.7 L1183.1,2169.0 L1174.9,2171.9 L1171.7,2184.7 L1173.0,2193.2 L1166.6,2203.9Z" fill="#3fa2ae"/>
<path d="M1166.0,2222.4 L1159.0,2223.9 L1159.0,2203.9 L1157.1,2196.8 L1154.5,2189.7 L1161.5,2186.8 L1164.1,2183.3 L1166.6,2179.7 L1171.7,2184.7 L1173.0,2193.2 L1166.6,2203.9Z" fill="#f1f1c5"/>
<path d="M1159.0,2223.9 L1156.4,2224.6 L1152.0,2214.6 L1152.0,2207.5 L1150.1,2200.4 L1148.2,2189.0 L1154.5,2189.7 L1157.1,2196.8 L1159.0,2203.9Z" fill="#f1f1c5"/>
<path d="M1156.4,2224.6 L1145.6,2230.3 L1136.1,2233.8 L1129.1,2231.7 L1131.6,2218.2 L1132.9,2209.6 L1131.0,2198.9 L1131.0,2189.7 L1148.2,2189.0 L1150.1,2200.4 L1152.0,2207.5 L1152.0,2214.6Z" fill="#3fa2ae"/>
<path d="M1131.0,2189.7 L1131.0,2198.9 L1118.9,2198.9 L1113.8,2194.0 L1114.5,2184.0 L1120.8,2177.6 L1124.0,2172.6 L1128.4,2170.5 L1136.1,2166.9 L1144.3,2160.5 L1150.1,2161.2 L1155.2,2172.6 L1162.2,2177.6 L1164.1,2183.3 L1161.5,2186.8 L1154.5,2189.7 L1148.2,2189.0Z" fill="#72b0a7"/>
<path d="M1129.1,2231.7 L1120.2,2231.0 L1110.6,2233.8 L1101.1,2236.7 L1100.5,2226.0 L1094.7,2221.7 L1096.0,2213.9 L1097.9,2207.5 L1097.9,2195.4 L1109.4,2192.5 L1113.8,2194.0 L1118.9,2198.9 L1131.0,2198.9 L1132.9,2209.6 L1131.6,2218.2Z" fill="#b5d2af"/>
<path d="M1101.1,2236.7 L1091.6,2232.4 L1080.1,2222.4 L1075.7,2218.9 L1083.3,2207.5 L1089.0,2214.6 L1096.0,2213.9 L1094.7,2221.7 L1100.5,2226.0Z" fill="#b5d2af"/>
<path d="M1075.7,2218.9 L1069.3,2215.3 L1064.2,2207.5 L1064.2,2203.9 L1069.3,2197.5 L1077.6,2196.8 L1081.4,2203.2 L1083.3,2207.5Z" fill="#72b0a7"/>
<path d="M1064.2,2203.9 L1056.6,2193.2 L1053.4,2189.7 L1061.7,2184.7 L1061.7,2178.3 L1076.3,2179.7 L1080.7,2183.3 L1089.7,2179.7 L1095.4,2187.5 L1097.9,2195.4 L1097.9,2207.5 L1096.0,2213.9 L1089.0,2214.6 L1083.3,2207.5 L1081.4,2203.2 L1077.6,2196.8 L1069.3,2197.5Z" fill="#f1f1c5"/>
<path d="M1053.4,2189.7 L1042.6,2180.4 L1061.7,2178.3 L1061.7,2184.7Z" fill="#72b0a7" stroke-width="3.2"/>
<path d="M1042.6,2180.4 L1037.5,2163.3 L1043.9,2153.4 L1056.6,2149.8 L1064.2,2156.9 L1071.2,2162.6 L1076.3,2179.7 L1061.7,2178.3Z" fill="#f1f1c5"/>
<path d="M1042.0,2171.9 L1061.0,2171.2 L1061.0,2174.0 L1042.0,2174.7Z" fill="#b5d2af"/>
<path d="M1071.2,2162.6 L1075.7,2156.9 L1089.7,2157.6 L1113.8,2157.6 L1108.1,2090.0 L1118.3,2090.0 L1160.2,2123.5 L1169.2,2127.0 L1175.5,2132.0 L1175.5,2147.7 L1171.1,2158.4 L1157.1,2159.1 L1150.1,2161.2 L1144.3,2160.5 L1136.1,2166.9 L1128.4,2170.5 L1124.0,2172.6 L1120.8,2177.6 L1114.5,2184.0 L1113.8,2194.0 L1109.4,2192.5 L1097.9,2195.4 L1095.4,2187.5 L1089.7,2179.7 L1080.7,2183.3 L1076.3,2179.7Z" fill="#f1f1c5"/>
<path d="M1227.0,2310.7 L1231.5,2321.4 L1233.4,2330.7 L1236.6,2344.2 L1234.0,2357.0 L1228.3,2364.1 L1225.1,2376.2 L1223.8,2390.8 L1234.7,2389.0 L1237.8,2391.9 L1266.5,2391.9 L1284.9,2396.2 L1297.6,2393.3 L1288.7,2383.3 L1288.7,2360.6 L1301.4,2360.6 L1301.4,2345.6 L1290.0,2347.7 L1288.1,2335.6 L1287.4,2320.0 L1279.2,2317.8 L1272.8,2317.8 L1272.2,2325.0 L1260.7,2325.7 L1256.3,2320.0 L1254.4,2310.0 L1234.0,2310.0Z" fill="#b5d2af"/>
<path d="M1297.6,2393.3 L1309.7,2394.7 L1314.2,2395.8 L1320.5,2395.4 L1332.6,2381.2 L1342.1,2379.1 L1340.9,2373.4 L1360.0,2367.7 L1358.0,2364.1 L1358.7,2357.0 L1360.6,2350.6 L1360.6,2339.2 L1358.0,2334.9 L1346.0,2329.2 L1344.7,2327.1 L1332.6,2328.5 L1331.3,2334.2 L1329.4,2346.3 L1330.1,2355.6 L1338.3,2354.9 L1338.3,2363.4 L1333.9,2363.4 L1329.4,2359.1 L1321.8,2352.0 L1314.2,2352.7 L1310.3,2350.6 L1304.0,2348.5 L1301.4,2345.6 L1301.4,2360.6 L1288.7,2360.6 L1288.7,2383.3Z" fill="#b5d2af"/>
<path d="M1358.0,2334.9 L1365.0,2335.6 L1370.8,2349.9 L1368.9,2364.1 L1376.5,2372.0 L1376.5,2381.9 L1373.3,2389.8 L1367.6,2383.3 L1367.6,2372.0 L1360.0,2367.7 L1358.0,2364.1 L1358.7,2357.0 L1360.6,2350.6 L1360.6,2339.2Z" fill="#b5d2af"/>
<path d="M1405.7,2342.0 L1406.4,2357.0 L1408.3,2371.2 L1403.2,2383.3 L1393.7,2390.5 L1384.1,2395.4 L1379.7,2401.9 L1371.4,2409.7 L1373.9,2421.1 L1374.6,2431.8 L1373.9,2440.3 L1361.9,2448.1 L1358.0,2453.1 L1358.0,2459.2 L1353.0,2459.2 L1352.3,2452.4 L1352.2,2441.7 L1347.9,2427.5 L1354.9,2419.7 L1358.7,2409.0 L1356.8,2399.7 L1358.7,2389.0 L1357.4,2386.9 L1347.9,2381.9 L1342.1,2379.1 L1340.9,2373.4 L1360.0,2367.7 L1367.6,2372.0 L1367.6,2383.3 L1373.3,2389.8 L1376.5,2381.9 L1376.5,2372.0 L1368.9,2364.1 L1370.8,2349.9 L1377.8,2350.6 L1387.3,2351.3 L1393.7,2349.2Z" fill="#b5d2af"/>
<path d="M1309.7,2394.7 L1314.2,2395.8 L1320.5,2395.4 L1332.6,2381.2 L1342.1,2379.1 L1347.9,2381.9 L1357.4,2386.9 L1358.7,2389.0 L1356.8,2399.7 L1358.7,2409.0 L1354.9,2419.7 L1347.9,2427.5 L1335.8,2426.1 L1326.9,2421.8 L1325.0,2414.0 L1315.4,2403.3Z" fill="#72b0a7"/>
<path d="M1309.7,2394.7 L1315.4,2403.3 L1325.0,2414.0 L1326.9,2421.8 L1335.8,2426.1 L1320.5,2436.0 L1313.5,2443.9 L1311.6,2450.3 L1295.1,2448.1 L1292.5,2453.8 L1281.1,2458.8 L1280.5,2449.6 L1276.0,2444.6 L1276.0,2424.6 L1282.4,2424.6 L1282.4,2398.3 L1297.0,2396.2 L1304.6,2396.2Z" fill="#3fa2ae"/>
<path d="M1223.8,2390.8 L1234.7,2389.0 L1237.8,2391.9 L1266.5,2391.9 L1284.9,2396.2 L1297.6,2393.3 L1309.7,2394.7 L1304.6,2396.2 L1297.0,2396.2 L1282.4,2398.3 L1282.4,2424.6 L1276.0,2424.6 L1276.0,2444.6 L1276.0,2470.2 L1269.6,2473.8 L1259.5,2472.3 L1253.7,2471.6 L1245.5,2460.2 L1241.0,2438.9 L1241.0,2428.2 L1233.4,2414.0 L1225.1,2399.7Z" fill="#2878ab"/>
<path d="M1253.7,2471.6 L1259.5,2472.3 L1269.6,2473.8 L1276.0,2470.2 L1276.0,2444.6 L1280.5,2449.6 L1281.1,2458.8 L1292.5,2453.8 L1295.1,2448.1 L1311.6,2450.3 L1313.5,2443.9 L1320.5,2436.0 L1335.8,2426.1 L1347.9,2427.5 L1352.2,2441.7 L1352.3,2452.4 L1353.0,2459.2 L1358.0,2459.2 L1355.5,2470.9 L1346.0,2480.9 L1339.6,2490.9 L1330.1,2500.8 L1320.5,2507.2 L1312.3,2510.1 L1298.3,2510.8 L1288.7,2511.5 L1276.0,2515.8 L1266.5,2511.5 L1265.2,2500.8 L1264.6,2493.7 L1258.8,2485.2Z" fill="#72b0a7"/>
<path d="M1344.7,2456.7 L1348.5,2451.0 L1353.0,2453.1 L1353.0,2459.2 L1347.9,2462.4 L1344.7,2459.5Z" fill="#b5d2af"/>
<path d="M1320.5,2478.8 L1330.7,2471.6 L1335.8,2477.3 L1334.5,2481.6 L1328.2,2485.9 L1322.4,2483.7Z" fill="#2878ab"/>
<path d="M1462.3,2353.4 L1470.0,2378.4 L1465.5,2387.6 L1463.0,2396.2 L1457.3,2414.0 L1452.2,2431.8 L1448.4,2445.3 L1436.3,2450.3 L1428.6,2446.0 L1424.2,2426.8 L1431.2,2410.4 L1428.6,2396.2 L1431.2,2383.3 L1443.3,2379.8 L1453.4,2372.0 L1459.2,2362.0Z" fill="#f1f1c5"/>
<path d="M1314.2,1976.8 L1316.1,1971.1 L1326.9,1969.0 L1334.5,1974.7 L1349.1,1974.7 L1361.9,1969.0 L1372.7,1969.0 L1380.9,1973.9 L1393.7,1976.8 L1403.2,1976.1 L1412.7,1972.5 L1419.7,1971.8 L1425.5,1975.4 L1426.7,1982.5 L1432.5,1985.3 L1429.9,1990.3 L1430.5,1997.4 L1433.7,2003.1 L1418.5,2003.8 L1403.2,2006.0 L1390.5,2006.0 L1382.2,2006.0 L1381.6,2010.3 L1377.1,2012.4 L1379.0,2007.4 L1374.6,2007.4 L1368.2,2006.0 L1358.7,2011.0 L1352.3,2008.1 L1343.4,2006.0 L1337.1,2010.3 L1328.2,2006.0 L1322.4,2004.6 L1321.8,1994.6 L1318.6,1988.2 L1315.4,1986.8 L1315.4,1983.2 L1318.6,1980.4 L1323.7,1979.6 L1333.2,1979.6 L1333.2,1976.1 L1323.7,1976.4 L1318.0,1979.6Z" fill="#f1f1c5"/>
<path d="M1354.2,2018.8 L1358.7,2016.0 L1368.9,2013.8 L1365.0,2018.8 L1358.7,2021.6Z" fill="#3fa2ae"/>
<path d="M1403.2,1959.0 L1427.4,1964.7 L1435.0,1964.0 L1444.5,1969.7 L1443.9,1975.4 L1435.0,1973.9 L1425.5,1975.4 L1419.7,1971.8 L1412.7,1972.5 L1414.0,1968.2Z" fill="#3fa2ae"/>
<path d="M1425.5,1975.4 L1435.0,1973.9 L1438.8,1977.5 L1441.4,1981.8 L1444.5,1986.8 L1444.5,1991.0 L1442.0,1991.0 L1438.2,1986.8 L1433.7,1985.3 L1432.5,1985.3 L1426.7,1982.5Z" fill="#b5d2af"/>
<path d="M1444.5,1969.7 L1457.3,1970.4 L1461.1,1973.9 L1469.3,1980.4 L1463.6,1981.8 L1461.7,1989.6 L1459.8,1994.6 L1454.1,1991.7 L1456.0,1987.5 L1447.7,1988.9 L1444.5,1991.0 L1444.5,1986.8 L1441.4,1981.8 L1438.8,1977.5 L1435.0,1973.9 L1443.9,1975.4Z" fill="#72b0a7"/>
<path d="M1433.7,1985.3 L1438.2,1986.8 L1442.0,1991.0 L1437.5,1990.3Z" fill="#72b0a7"/>
<path d="M1377.1,2012.4 L1381.6,2010.3 L1382.2,2006.0 L1390.5,2006.0 L1403.2,2006.0 L1418.5,2003.8 L1411.5,2008.8 L1412.1,2014.5 L1409.6,2023.1 L1395.6,2030.2 L1382.8,2038.0 L1377.1,2035.2 L1376.5,2030.9 L1381.6,2024.5 L1377.8,2021.6Z" fill="#f1f1c5"/>
<path d="M1372.0,2032.3 L1375.2,2030.9 L1376.5,2030.9 L1381.6,2024.5 L1377.8,2021.6Z" fill="#b5d2af"/>
<path d="M1366.3,2045.1 L1370.8,2058.0 L1373.9,2047.3 L1375.2,2037.3 L1377.1,2035.2 L1376.5,2030.9 L1375.2,2030.9 L1372.0,2032.3 L1369.5,2040.2Z" fill="#b5d2af"/>
<path d="M1370.8,2058.0 L1378.4,2060.1 L1387.3,2054.4 L1390.5,2050.8 L1384.1,2043.7 L1396.8,2040.2 L1398.1,2038.0 L1395.6,2030.2 L1382.8,2038.0 L1377.1,2035.2 L1375.2,2037.3 L1373.9,2047.3Z" fill="#f1f1c5"/>
<path d="M1418.5,2003.8 L1433.7,2003.1 L1438.2,2011.7 L1442.6,2017.4 L1438.2,2025.9 L1442.0,2033.0 L1452.8,2040.2 L1452.2,2048.0 L1457.9,2055.1 L1453.4,2054.4 L1444.5,2060.8 L1433.1,2060.1 L1415.9,2047.3 L1405.7,2040.9 L1398.1,2038.0 L1395.6,2030.2 L1409.6,2023.1 L1412.1,2014.5 L1411.5,2008.8Z" fill="#f1f1c5"/>
<path d="M1444.5,2060.8 L1453.4,2054.4 L1456.6,2065.1 L1450.9,2065.1Z" fill="#b5d2af"/>
<path d="M1370.8,2058.0 L1378.4,2060.1 L1387.3,2054.4 L1390.5,2050.8 L1384.1,2043.7 L1396.8,2040.2 L1398.1,2038.0 L1405.7,2040.9 L1415.9,2047.3 L1433.1,2060.1 L1444.5,2060.8 L1450.9,2065.1 L1456.6,2065.1 L1460.4,2072.2 L1466.8,2077.9 L1468.1,2085.7 L1471.9,2091.4 L1477.0,2095.0 L1483.3,2105.0 L1499.9,2106.4 L1503.1,2111.4 L1498.6,2125.6 L1479.5,2132.7 L1460.4,2135.6 L1447.7,2147.0 L1443.9,2145.5 L1428.6,2144.1 L1424.2,2143.4 L1421.0,2151.2 L1417.2,2143.4 L1409.6,2132.7 L1398.1,2115.6 L1393.7,2100.7 L1385.4,2090.0 L1380.9,2082.9 L1372.7,2068.6 L1368.9,2067.9Z" fill="#f1f1c5"/>
<path d="M1421.0,2151.2 L1424.2,2143.4 L1428.6,2144.1 L1443.9,2145.5 L1447.7,2147.0 L1460.4,2135.6 L1479.5,2132.7 L1486.5,2149.5 L1480.8,2156.9 L1460.4,2168.3 L1450.9,2171.2 L1435.0,2176.9 L1425.5,2177.6 L1423.6,2173.3 L1421.0,2162.6Z" fill="#f1f1c5"/>
<path d="M1486.5,2149.5 L1479.5,2132.7 L1498.6,2125.6 L1503.1,2111.4 L1499.9,2106.4 L1503.7,2095.7 L1506.9,2090.7 L1511.3,2097.8 L1521.5,2100.0 L1529.1,2107.8 L1520.9,2122.8 L1516.4,2132.7 L1506.9,2140.6 L1498.6,2147.0Z" fill="#f1f1c5"/>
<path d="M1477.0,2095.0 L1483.3,2105.0 L1499.9,2106.4 L1503.7,2095.7 L1506.9,2090.7 L1507.5,2082.9 L1505.0,2082.9 L1500.5,2087.9 L1492.2,2095.7 L1482.7,2095.7Z" fill="#b5d2af"/>
<path d="M1471.9,2091.4 L1474.4,2082.2 L1477.0,2087.9 L1477.0,2095.0Z" fill="#f1f1c5"/>
<path d="M1432.5,1985.3 L1433.7,1985.3 L1437.5,1990.3 L1442.0,1991.0 L1444.5,1991.0 L1447.7,1988.9 L1456.0,1987.5 L1454.1,1991.7 L1459.8,1994.6 L1463.6,2001.0 L1470.0,2004.6 L1479.5,2007.4 L1491.6,2005.3 L1491.6,2002.4 L1501.8,1997.4 L1512.6,1995.3 L1525.9,2001.0 L1538.0,2007.4 L1538.0,2014.5 L1533.6,2025.9 L1536.1,2043.7 L1541.8,2047.3 L1536.1,2055.8 L1541.2,2064.4 L1548.2,2074.3 L1550.8,2078.6 L1540.6,2088.6 L1520.9,2085.7 L1513.2,2085.0 L1508.1,2075.0 L1495.4,2079.3 L1482.7,2072.2 L1473.2,2062.9 L1466.8,2053.0 L1459.8,2052.3 L1457.9,2055.1 L1452.2,2048.0 L1452.8,2040.2 L1442.0,2033.0 L1438.2,2025.9 L1442.6,2017.4 L1438.2,2011.7 L1433.7,2003.1 L1430.5,1997.4 L1429.9,1990.3Z" fill="#f1f1c5"/>
<path d="M1491.6,2002.4 L1491.0,1991.7 L1485.9,1988.2 L1485.2,1983.2 L1484.0,1976.1 L1482.7,1970.4 L1493.5,1966.8 L1505.0,1973.9 L1512.0,1973.2 L1521.5,1963.3 L1530.4,1967.5 L1530.4,1974.7 L1542.5,1975.4 L1545.7,1983.2 L1559.0,1991.0 L1571.7,1997.4 L1572.4,2001.7 L1566.7,2001.0 L1560.9,2003.8 L1559.0,2009.5 L1549.5,2013.1 L1546.3,2016.7 L1538.0,2014.5 L1538.0,2007.4 L1525.9,2001.0 L1512.6,1995.3 L1501.8,1997.4Z" fill="#72b0a7"/>
<path d="M1505.0,1973.9 L1505.0,1947.6 L1521.5,1943.3 L1536.8,1951.9 L1543.1,1958.3 L1561.6,1956.9 L1569.2,1961.8 L1568.6,1969.0 L1571.7,1969.7 L1581.3,1977.5 L1587.6,1973.2 L1597.2,1967.5 L1601.6,1967.5 L1599.7,1974.7 L1613.7,1977.5 L1604.8,1981.8 L1597.2,1981.1 L1596.5,1976.8 L1589.5,1977.5 L1588.9,1981.8 L1584.5,1986.0 L1577.5,1988.9 L1583.8,1996.0 L1580.0,2003.1 L1572.4,2001.7 L1571.7,1997.4 L1559.0,1991.0 L1545.7,1983.2 L1542.5,1975.4 L1530.4,1974.7 L1530.4,1967.5 L1521.5,1963.3 L1512.0,1973.2Z" fill="#72b0a7"/>
<path d="M1461.7,1938.3 L1457.9,1936.2 L1449.6,1927.7 L1446.4,1923.4 L1458.5,1907.7 L1471.9,1899.9 L1482.7,1901.3 L1503.1,1907.7 L1521.5,1904.9 L1538.0,1906.3 L1539.9,1897.8 L1536.8,1884.2 L1563.5,1881.4 L1587.6,1874.3 L1601.6,1882.1 L1615.6,1884.2 L1635.3,1882.1 L1644.2,1888.5 L1657.6,1906.3 L1676.7,1904.9 L1690.7,1914.8 L1704.0,1918.4 L1693.9,1923.4 L1692.6,1933.4 L1676.7,1931.9 L1672.2,1944.0 L1658.9,1947.6 L1658.9,1967.5 L1651.2,1963.3 L1632.2,1962.6 L1622.6,1960.4 L1616.3,1966.1 L1601.6,1964.0 L1601.6,1967.5 L1597.2,1967.5 L1587.6,1973.2 L1581.3,1977.5 L1571.7,1969.7 L1568.6,1969.0 L1569.2,1961.8 L1561.6,1956.9 L1543.1,1958.3 L1536.8,1951.9 L1521.5,1943.3 L1505.0,1947.6 L1505.0,1973.9 L1493.5,1966.8 L1482.7,1970.4 L1482.1,1963.3 L1473.2,1951.2 L1468.1,1950.4 L1474.4,1945.5 L1485.9,1945.5 L1485.9,1934.1 L1474.4,1932.6Z" fill="#3fa2ae"/>
<path d="M1658.9,1967.5 L1651.2,1963.3 L1632.2,1962.6 L1622.6,1960.4 L1616.3,1966.1 L1601.6,1964.0 L1601.6,1967.5 L1599.7,1974.7 L1613.7,1977.5 L1604.8,1981.8 L1597.2,1981.1 L1589.5,1986.0 L1597.8,1986.8 L1606.7,1987.5 L1617.5,1987.5 L1624.5,1980.4 L1637.2,1976.8 L1648.1,1973.2Z" fill="#72b0a7"/>
<path d="M1580.0,2003.1 L1583.8,1996.0 L1577.5,1988.9 L1584.5,1986.0 L1588.9,1981.8 L1589.5,1977.5 L1596.5,1976.8 L1597.2,1981.1 L1589.5,1986.0 L1597.8,1986.8 L1606.7,1987.5 L1617.5,1987.5 L1625.2,1993.9 L1624.5,2001.7 L1616.3,2001.7 L1603.5,2006.0 L1601.6,1997.4 L1595.3,2000.3 L1589.5,2003.8Z" fill="#f1f1c5"/>
<path d="M1538.0,2014.5 L1546.3,2016.7 L1549.5,2013.1 L1559.0,2009.5 L1560.9,2003.8 L1566.7,2001.0 L1572.4,2001.7 L1580.0,2003.1 L1589.5,2003.8 L1595.3,2000.3 L1601.6,1997.4 L1603.5,2006.0 L1616.3,2001.7 L1624.5,2001.7 L1622.6,2004.6 L1604.2,2008.8 L1601.6,2018.8 L1600.4,2025.9 L1593.4,2025.9 L1595.9,2030.9 L1589.5,2040.9 L1574.3,2045.1 L1570.5,2055.1 L1555.8,2058.7 L1546.3,2058.7 L1536.1,2055.8 L1541.8,2047.3 L1536.1,2043.7 L1533.6,2025.9Z" fill="#f1f1c5"/>
<path d="M1536.1,2055.8 L1546.3,2058.7 L1555.8,2058.7 L1570.5,2055.1 L1574.3,2045.1 L1589.5,2040.9 L1595.9,2030.9 L1593.4,2025.9 L1600.4,2025.9 L1601.6,2018.8 L1604.2,2008.8 L1622.6,2004.6 L1631.5,2011.7 L1643.6,2015.2 L1638.5,2018.8 L1619.4,2020.9 L1619.4,2033.0 L1628.3,2038.0 L1622.0,2047.3 L1618.8,2054.4 L1612.4,2062.2 L1606.1,2069.4 L1596.5,2068.6 L1591.5,2074.3 L1595.3,2082.9 L1599.7,2092.1 L1586.4,2095.0 L1582.6,2099.3 L1578.1,2097.1 L1573.0,2088.6 L1559.0,2088.6 L1540.6,2088.6 L1550.8,2078.6 L1548.2,2074.3 L1541.2,2064.4Z" fill="#f1f1c5"/>
<path d="M1582.6,2099.3 L1586.4,2095.0 L1599.7,2092.1 L1595.3,2082.9 L1591.5,2074.3 L1596.5,2068.6 L1606.1,2069.4 L1612.4,2062.2 L1618.8,2054.4 L1622.0,2047.3 L1628.3,2038.0 L1619.4,2033.0 L1619.4,2020.9 L1638.5,2018.8 L1643.6,2015.2 L1650.6,2023.8 L1649.3,2035.9 L1650.0,2045.9 L1664.0,2053.0 L1658.2,2062.9 L1678.6,2072.9 L1689.4,2077.9 L1709.1,2080.0 L1709.1,2069.4 L1713.6,2073.6 L1719.9,2077.9 L1733.9,2076.5 L1732.0,2070.1 L1746.6,2060.1 L1759.4,2058.7 L1767.6,2066.5 L1760.6,2073.6 L1754.3,2082.9 L1750.5,2092.1 L1742.2,2097.1 L1742.8,2110.6 L1737.7,2116.3 L1735.8,2105.0 L1735.8,2099.3 L1728.8,2100.0 L1730.1,2096.4 L1736.5,2090.0 L1723.7,2088.6 L1719.9,2087.9 L1719.9,2082.9 L1711.7,2080.0 L1709.1,2084.3 L1714.2,2088.6 L1709.1,2093.6 L1713.6,2102.8 L1714.8,2113.5 L1702.1,2114.9 L1701.5,2121.3 L1690.7,2129.2 L1679.9,2141.3 L1672.2,2149.8 L1659.5,2156.2 L1658.2,2171.9 L1656.3,2184.7 L1657.0,2194.7 L1651.2,2201.8 L1646.2,2204.6 L1641.7,2210.3 L1635.3,2203.9 L1630.9,2186.1 L1624.5,2175.4 L1619.4,2161.2 L1615.0,2150.5 L1611.8,2132.7 L1610.5,2118.5 L1609.9,2109.9 L1606.7,2117.8 L1599.7,2120.6 L1588.9,2111.4 L1595.9,2105.0 L1586.4,2102.8Z" fill="#b5d2af"/>
<path d="M1664.0,2053.0 L1658.2,2062.9 L1678.6,2072.9 L1689.4,2077.9 L1709.1,2080.0 L1709.1,2069.4 L1695.8,2068.6 L1683.0,2062.2 L1670.3,2052.3Z" fill="#f1f1c5"/>
<path d="M1713.6,2073.6 L1719.9,2077.9 L1733.9,2076.5 L1732.0,2070.1 L1721.2,2066.5Z" fill="#b5d2af"/>
<path d="M1714.8,2113.5 L1713.6,2102.8 L1709.1,2093.6 L1714.2,2088.6 L1709.1,2084.3 L1711.7,2080.0 L1719.9,2082.9 L1719.9,2087.9 L1723.7,2088.6 L1736.5,2090.0 L1730.1,2096.4 L1728.8,2100.0 L1735.8,2099.3 L1735.8,2105.0 L1737.7,2116.3 L1735.8,2120.6 L1732.6,2109.2 L1724.4,2107.1 L1721.2,2112.1Z" fill="#f1f1c5"/>
<path d="M1657.0,2198.9 L1665.2,2207.5 L1669.7,2218.2 L1664.0,2224.6 L1657.6,2225.3 L1655.7,2211.0Z" fill="#b5d2af"/>
<path d="M1735.8,2120.6 L1737.7,2116.3 L1742.8,2110.6 L1742.2,2097.1 L1750.5,2092.1 L1754.3,2082.9 L1760.6,2073.6 L1767.6,2066.5 L1774.0,2071.5 L1776.5,2084.3 L1769.5,2097.1 L1777.8,2102.8 L1779.7,2110.6 L1785.4,2114.9 L1792.4,2114.9 L1785.4,2123.5 L1778.4,2124.9 L1770.8,2136.3 L1770.2,2143.4 L1775.9,2151.9 L1773.4,2161.2 L1779.7,2175.4 L1782.3,2184.0 L1776.5,2196.8 L1775.3,2182.6 L1770.8,2164.8 L1769.5,2150.5 L1764.4,2147.0 L1755.5,2155.5 L1748.5,2154.1 L1748.5,2136.3 L1743.5,2127.0Z" fill="#b5d2af"/>
<path d="M1785.4,2123.5 L1778.4,2124.9 L1770.8,2136.3 L1770.2,2143.4 L1775.9,2151.9 L1773.4,2161.2 L1779.7,2175.4 L1782.3,2184.0 L1776.5,2196.8 L1774.0,2208.9 L1779.7,2216.0 L1785.4,2221.7 L1791.2,2226.7 L1798.2,2223.9 L1791.2,2218.9 L1786.7,2212.5 L1784.8,2203.9 L1779.7,2198.2 L1784.2,2186.1 L1784.8,2172.6 L1790.5,2172.6 L1791.2,2177.6 L1799.4,2181.1 L1803.2,2184.7 L1800.1,2171.2 L1803.9,2166.2 L1817.9,2166.2 L1820.4,2156.2 L1815.3,2150.5 L1814.7,2143.4 L1805.8,2137.0 L1798.2,2138.4 L1792.4,2143.4 L1792.4,2129.2 L1788.0,2129.2 L1787.3,2123.5Z" fill="#72b0a7"/>
<path d="M1792.4,2114.9 L1796.2,2117.1 L1798.2,2108.5 L1803.9,2118.5 L1814.1,2121.3 L1809.6,2130.6 L1817.9,2137.7 L1826.1,2147.7 L1831.9,2156.9 L1832.5,2163.3 L1823.0,2165.5 L1817.9,2166.2 L1820.4,2156.2 L1815.3,2150.5 L1814.7,2143.4 L1805.8,2137.0 L1798.2,2138.4 L1792.4,2143.4 L1792.4,2129.2 L1788.0,2129.2 L1787.3,2123.5 L1785.4,2123.5Z" fill="#b5d2af"/>
<path d="M1798.2,2108.5 L1807.1,2106.4 L1818.5,2102.1 L1827.4,2105.7 L1835.7,2114.9 L1828.0,2119.9 L1822.3,2132.7 L1826.1,2141.3 L1834.4,2151.9 L1841.4,2159.8 L1843.9,2175.4 L1843.3,2185.4 L1832.5,2194.0 L1827.4,2196.8 L1816.6,2206.8 L1816.0,2196.1 L1812.8,2194.0 L1821.7,2189.7 L1824.2,2184.0 L1832.5,2180.4 L1832.5,2163.3 L1831.9,2156.9 L1826.1,2147.7 L1817.9,2137.7 L1809.6,2130.6 L1814.1,2121.3 L1803.9,2118.5Z" fill="#17428f"/>
<path d="M1803.2,2184.7 L1800.1,2171.2 L1803.9,2166.2 L1817.9,2166.2 L1823.0,2165.5 L1832.5,2163.3 L1832.5,2180.4 L1824.2,2184.0 L1821.7,2189.7 L1812.8,2194.0 L1807.7,2193.2 L1804.5,2189.7Z" fill="#2878ab"/>
<path d="M1785.4,2221.7 L1791.2,2226.7 L1798.2,2223.9 L1806.4,2233.8 L1806.4,2248.1 L1811.5,2258.0 L1806.4,2258.7 L1793.1,2247.4 L1788.6,2238.1 L1786.7,2228.8Z" fill="#b5d2af"/>
<path d="M1845.9,2253.8 L1854.8,2248.8 L1867.5,2245.2 L1873.8,2236.0 L1883.4,2228.8 L1891.0,2218.9 L1896.7,2222.4 L1902.5,2228.8 L1906.9,2231.7 L1900.6,2237.4 L1896.1,2238.1 L1885.3,2237.4 L1880.2,2248.1 L1878.9,2257.3 L1867.5,2258.0 L1859.8,2260.9 L1851.6,2261.6Z" fill="#b5d2af"/>
<path d="M1845.9,2253.8 L1851.6,2261.6 L1859.8,2260.9 L1867.5,2258.0 L1878.9,2257.3 L1880.2,2248.1 L1885.3,2237.4 L1896.1,2238.1 L1898.0,2246.6 L1899.3,2253.8 L1905.6,2260.9 L1898.0,2262.3 L1896.1,2273.7 L1889.7,2278.7 L1888.5,2289.4 L1886.6,2295.8 L1877.7,2297.2 L1867.5,2290.8 L1859.8,2292.9 L1849.7,2288.6 L1848.4,2278.0 L1842.0,2270.1 L1842.0,2259.5Z" fill="#f1f1c5"/>
<path d="M1754.9,2228.1 L1768.9,2231.0 L1774.0,2238.1 L1784.8,2248.8 L1791.2,2252.3 L1803.9,2263.0 L1808.3,2275.1 L1814.1,2284.4 L1823.0,2289.4 L1821.7,2309.3 L1814.1,2309.3 L1799.4,2296.5 L1791.2,2285.8 L1786.7,2274.4 L1778.4,2264.4 L1775.9,2255.9 L1765.7,2245.2 L1756.2,2233.8Z" fill="#f1f1c5"/>
<path d="M1817.9,2316.4 L1828.0,2310.7 L1838.9,2314.3 L1853.5,2313.6 L1865.6,2317.8 L1877.0,2322.8 L1876.4,2329.9 L1854.8,2327.1 L1835.7,2323.5 L1825.5,2320.7Z" fill="#f1f1c5"/>
<path d="M1912.0,2260.9 L1918.4,2258.7 L1931.1,2261.6 L1945.1,2256.6 L1940.6,2265.2 L1918.4,2264.4 L1913.9,2274.4 L1921.5,2275.1 L1933.0,2274.4 L1924.7,2280.8 L1921.5,2287.9 L1929.8,2300.0 L1924.7,2307.2 L1917.7,2289.4 L1914.5,2307.9 L1908.8,2307.2 L1908.8,2292.9 L1904.4,2287.9 L1910.7,2268.7Z" fill="#f1f1c5"/>
<path d="M1880.2,2327.1 L1892.9,2327.8 L1905.6,2328.5 L1918.4,2328.5 L1931.1,2327.8 L1929.8,2330.7 L1905.6,2331.4 L1886.6,2331.4Z" fill="#f1f1c5"/>
<path d="M1934.3,2341.3 L1943.8,2332.1 L1958.4,2327.8 L1947.0,2337.8Z" fill="#f1f1c5"/>
<path d="M1959.7,2253.8 L1966.1,2257.3 L1964.8,2265.9 L1962.9,2273.7 L1960.3,2262.3Z" fill="#f1f1c5"/>
<path d="M1962.9,2289.4 L1980.7,2290.8 L1972.4,2293.6Z" fill="#f1f1c5"/>
<path d="M1982.0,2273.7 L1991.5,2270.8 L2001.0,2273.7 L2002.3,2285.8 L2010.6,2292.2 L2025.2,2278.7 L2045.6,2286.5 L2045.6,2332.8 L2036.0,2326.4 L2026.5,2327.8 L2029.7,2317.8 L2026.5,2307.2 L2010.6,2300.0 L1997.9,2295.1 L1993.4,2287.9 L1988.3,2287.9 L1999.8,2283.7 L1988.3,2280.8 L1981.3,2278.0Z" fill="#f1f1c5"/>
<path d="M2045.6,2286.5 L2064.6,2295.1 L2076.1,2303.6 L2086.9,2310.7 L2083.7,2316.4 L2093.3,2332.1 L2107.3,2341.3 L2096.4,2341.3 L2083.7,2335.6 L2077.4,2326.4 L2067.8,2322.8 L2060.2,2328.5 L2055.1,2334.2 L2045.6,2332.8Z" fill="#72b0a7"/>
<path d="M2093.3,2307.9 L2106.0,2307.2 L2116.8,2297.9 L2115.5,2305.0 L2102.8,2312.9Z" fill="#72b0a7"/>
<path d="M2107.9,2286.5 L2120.6,2295.1 L2121.2,2300.8 L2112.3,2290.8Z" fill="#72b0a7"/>
<path d="M2132.1,2307.2 L2140.3,2315.7 L2135.9,2315.0Z" fill="#72b0a7"/>
<path d="M1915.2,2136.3 L1926.0,2136.3 L1926.6,2150.5 L1921.5,2157.6 L1924.7,2168.3 L1937.4,2175.4 L1937.4,2179.0 L1927.9,2171.9 L1918.4,2170.5 L1915.8,2164.8 L1911.4,2154.1 L1914.5,2147.0Z" fill="#72b0a7"/>
<path d="M1924.7,2218.2 L1934.3,2206.8 L1947.0,2198.2 L1953.3,2211.0 L1951.4,2223.1 L1946.3,2225.3 L1937.4,2221.7 L1934.3,2214.6Z" fill="#72b0a7"/>
<path d="M1940.0,2179.0 L1947.0,2181.1 L1945.1,2194.7 L1940.6,2191.1Z" fill="#72b0a7"/>
<path d="M1924.7,2184.0 L1932.4,2189.7 L1931.1,2202.5 L1927.3,2198.2 L1924.7,2192.5Z" fill="#72b0a7"/>
<path d="M1894.8,2207.5 L1908.8,2187.5 L1905.6,2196.8Z" fill="#72b0a7"/>
<path d="M1914.5,2172.6 L1920.9,2174.0 L1919.6,2180.4Z" fill="#72b0a7"/>
<path d="M1913.3,2104.2 L1921.5,2088.6 L1924.1,2093.6 L1917.7,2111.4Z" fill="#72b0a7"/>
<path d="M1840.1,2131.3 L1851.6,2125.6 L1854.8,2129.2 L1845.9,2138.4Z" fill="#72b0a7"/>
<path d="M1981.3,2025.9 L1991.5,2015.2 L2012.5,2014.5 L2020.1,2002.4 L2031.6,1998.9 L2039.2,1984.6 L2041.1,1974.7 L2048.7,1973.9 L2051.9,1986.8 L2045.6,1997.4 L2044.9,2011.7 L2039.2,2018.8 L2031.6,2020.9 L2020.1,2021.6 L2018.8,2023.8 L2012.5,2029.5 L2008.7,2023.1 L1994.7,2023.8 L1982.0,2026.6Z" fill="#b5d2af"/>
<path d="M2039.2,1972.5 L2041.1,1960.4 L2050.0,1944.8 L2061.5,1953.3 L2072.9,1954.7 L2074.2,1960.4 L2059.6,1969.0 L2048.7,1965.4 L2042.4,1969.0Z" fill="#b5d2af"/>
<path d="M1974.3,2031.6 L1982.0,2027.3 L1987.7,2034.5 L1982.0,2045.1 L1976.9,2045.9 L1976.9,2036.6Z" fill="#b5d2af"/>
<path d="M1990.9,2027.3 L2002.3,2023.8 L2005.5,2027.3 L1994.7,2034.5Z" fill="#b5d2af"/>
<path d="M1939.3,1983.9 L1950.2,1971.1 L1962.9,1972.5 L1973.7,1966.1 L1980.1,1966.8 L1973.7,1976.1 L1960.3,1985.3 L1964.8,1993.2 L1954.6,1998.9 L1943.8,1998.9 L1945.7,1987.5Z" fill="#b5d2af"/>
<path d="M1954.6,1998.9 L1964.8,1993.2 L1971.8,2004.6 L1971.8,2015.2 L1966.1,2019.5 L1953.3,2023.1 L1952.1,2015.2 L1955.2,2006.0Z" fill="#b5d2af"/>
<path d="M1980.1,1966.8 L1973.7,1966.1 L1962.9,1972.5 L1950.2,1971.1 L1939.3,1983.9 L1921.5,1991.7 L1923.4,1977.5 L1908.8,1984.6 L1898.0,1990.3 L1905.0,2000.3 L1916.5,1998.9 L1927.9,2002.4 L1915.2,2011.0 L1907.5,2018.8 L1917.1,2033.0 L1924.1,2042.3 L1918.4,2050.8 L1924.7,2055.1 L1921.5,2066.5 L1912.0,2078.6 L1905.6,2088.6 L1896.1,2098.5 L1886.6,2105.0 L1875.1,2109.2 L1864.3,2112.8 L1851.6,2117.1 L1850.3,2123.5 L1847.1,2114.9 L1835.7,2114.9 L1827.4,2105.7 L1818.5,2102.1 L1807.1,2106.4 L1798.2,2108.5 L1796.2,2117.1 L1792.4,2114.9 L1785.4,2114.9 L1779.7,2110.6 L1777.8,2102.8 L1769.5,2097.1 L1776.5,2084.3 L1774.0,2071.5 L1767.6,2066.5 L1759.4,2058.7 L1746.6,2060.1 L1732.0,2070.1 L1721.2,2066.5 L1713.6,2073.6 L1709.1,2069.4 L1695.8,2068.6 L1683.0,2062.2 L1670.3,2052.3 L1664.0,2053.0 L1650.0,2045.9 L1649.3,2035.9 L1650.6,2023.8 L1643.6,2015.2 L1631.5,2011.7 L1622.6,2004.6 L1624.5,2001.7 L1625.2,1993.9 L1617.5,1987.5 L1624.5,1980.4 L1637.2,1976.8 L1648.1,1973.2 L1658.9,1967.5 L1658.9,1947.6 L1672.2,1944.0 L1676.7,1931.9 L1692.6,1933.4 L1693.9,1923.4 L1704.0,1918.4 L1708.5,1922.7 L1721.2,1927.7 L1727.6,1940.5 L1726.9,1946.2 L1743.5,1948.3 L1755.5,1953.3 L1761.9,1964.0 L1784.8,1964.7 L1796.2,1965.4 L1816.6,1971.8 L1832.5,1966.1 L1848.4,1964.0 L1860.5,1956.9 L1860.5,1947.6 L1871.3,1949.0 L1891.0,1938.3 L1910.7,1935.5 L1910.1,1931.9 L1899.3,1927.0 L1883.4,1928.4 L1891.0,1913.4 L1898.0,1915.6 L1912.0,1899.9 L1917.1,1888.5 L1934.3,1887.1 L1950.2,1893.5 L1959.7,1913.4 L1978.8,1919.8 L1982.0,1928.4 L2005.5,1924.1 L1994.7,1946.9 L1982.0,1948.3 L1983.2,1958.3 L1979.4,1962.6Z" fill="#72b0a7"/>
<path d="M1704.0,1918.4 L1713.6,1915.6 L1733.9,1907.0 L1750.5,1912.0 L1765.7,1912.7 L1774.0,1908.4 L1777.8,1897.0 L1798.8,1902.7 L1799.4,1907.7 L1829.3,1909.9 L1848.4,1917.7 L1873.8,1910.6 L1891.0,1913.4 L1883.4,1928.4 L1899.3,1927.0 L1910.1,1931.9 L1910.7,1935.5 L1891.0,1938.3 L1871.3,1949.0 L1860.5,1947.6 L1860.5,1956.9 L1848.4,1964.0 L1832.5,1966.1 L1816.6,1971.8 L1796.2,1965.4 L1784.8,1964.7 L1761.9,1964.0 L1755.5,1953.3 L1743.5,1948.3 L1726.9,1946.2 L1727.6,1940.5 L1721.2,1927.7 L1708.5,1922.7Z" fill="#72b0a7"/>
<path d="M1875.1,2423.2 L1891.6,2414.7 L1905.6,2410.4 L1921.5,2403.3 L1926.6,2390.5 L1934.9,2389.0 L1940.6,2378.4 L1950.2,2367.7 L1961.6,2371.2 L1966.1,2374.8 L1972.4,2374.1 L1975.6,2360.6 L1980.7,2356.3 L1991.5,2354.2 L1992.1,2348.5 L2007.4,2354.9 L2018.8,2354.9 L2013.8,2364.1 L2010.6,2374.8 L2023.3,2381.9 L2034.7,2392.6 L2044.3,2392.6 L2049.4,2374.8 L2049.4,2359.1 L2055.1,2344.9 L2061.5,2357.0 L2062.1,2369.8 L2072.9,2374.8 L2077.4,2392.6 L2079.3,2402.6 L2093.3,2411.8 L2098.3,2421.1 L2107.9,2431.8 L2120.6,2446.0 L2125.1,2463.8 L2125.1,2474.5 L2120.6,2492.3 L2111.1,2508.7 L2104.1,2524.3 L2102.2,2535.0 L2086.9,2538.6 L2079.3,2546.4 L2069.1,2540.0 L2061.5,2544.3 L2045.6,2539.3 L2037.9,2531.4 L2034.7,2521.5 L2029.7,2520.8 L2029.7,2515.8 L2025.2,2503.0 L2020.1,2510.1 L2013.1,2515.8 L2002.3,2503.0 L1988.3,2495.8 L1969.2,2493.0 L1950.2,2498.0 L1937.4,2503.0 L1934.3,2509.4 L1912.0,2509.4 L1899.3,2517.2 L1886.6,2516.5 L1880.2,2512.2 L1884.7,2495.8 L1880.2,2485.2 L1877.0,2470.9 L1872.6,2456.7 L1870.7,2446.0 L1871.9,2431.8Z" fill="#2878ab"/>
<path d="M2069.1,2557.8 L2080.5,2560.6 L2092.0,2559.2 L2091.4,2568.5 L2086.9,2575.6 L2077.4,2578.4 L2072.9,2570.6Z" fill="#2878ab"/>
<path d="M2247.2,2512.9 L2257.3,2520.8 L2265.0,2527.9 L2268.2,2535.7 L2284.1,2536.4 L2279.6,2547.1 L2274.5,2550.0 L2271.3,2559.9 L2263.1,2564.2 L2260.5,2562.1 L2262.4,2554.2 L2254.2,2547.8 L2259.3,2542.8 L2259.9,2532.9 L2255.4,2524.3 L2249.1,2517.2Z" fill="#2878ab"/>
<path d="M2247.2,2556.4 L2257.3,2564.9 L2249.1,2574.2 L2247.8,2579.9 L2237.6,2584.1 L2234.5,2594.8 L2226.8,2599.8 L2219.2,2599.8 L2207.7,2595.5 L2210.9,2588.4 L2219.2,2581.3 L2230.0,2574.2 L2238.3,2567.0 L2242.7,2558.5Z" fill="#2878ab"/>
<path d="M2191.8,2411.8 L2207.7,2423.2 L2210.9,2427.5 L2198.2,2419.7Z" fill="#ffffff"/>
<path d="M2276.4,2392.6 L2284.7,2393.3 L2282.2,2397.6 L2276.4,2396.9Z" fill="#72b0a7"/>
</g>
<g fill="none" stroke="#14181b" stroke-linecap="round" stroke-linejoin="round">
<path d="M1180.6,1845.8 L1180.0,1833.7 L1183.8,1825.1 L1196.5,1818.0 L1209.2,1812.3 L1218.8,1805.2 L1227.0,1796.7 L1233.4,1788.1 L1239.7,1781.0 L1250.6,1776.7 L1263.3,1771.0 L1282.4,1767.5 L1301.4,1762.5 L1320.5,1761.8" stroke-width="4.5" stroke-opacity="0.8"/>
<path d="M678.8,2568.5 L676.3,2581.3 L674.3,2599.1 L674.3,2609.8" stroke-width="6" stroke-opacity="0.85"/>
<path d="M674.3,2609.8 L675.6,2624.0 L678.2,2634.7 L683.2,2643.9 L692.2,2652.5 L702.3,2658.9 L714.4,2662.4" stroke-width="12" stroke-opacity="0.88"/>
<path d="M361.4,1921.3 L348.7,1909.9 L336.0,1902.0 L329.6,1890.6 L316.9,1880.0 L307.4,1869.3 L294.7,1858.6 L285.1,1852.2 L275.6,1850.1" stroke-width="5" stroke-opacity="0.8"/>
<path d="M1008.9,1767.5 L996.2,1775.3 L977.1,1781.7 L945.3,1786.7 L926.2,1795.2 L907.1,1800.9 L891.2,1808.8 L881.7,1823.0 L874.0,1838.7" stroke-width="3.5" stroke-opacity="0.75"/>
<path d="M862.6,1839.4 L843.5,1833.7 L830.8,1823.0 L821.3,1810.9 L811.7,1798.1 L808.5,1783.8 L824.4,1774.6 L805.4,1767.5 L799.0,1755.4 L792.6,1744.7" stroke-width="3.5" stroke-opacity="0.75"/>
<path d="M1021.6,1741.1 L1018.4,1726.9 L1028.0,1712.6 L1034.3,1698.4 L1059.8,1687.7 L1008.9,1682.0 L938.9,1673.5 L862.6,1678.5 L799.0,1682.7" stroke-width="2.5" stroke-opacity="0.7"/>
<path d="M1113.2,1873.6 L1110.0,1865.7 L1110.6,1858.6 L1115.1,1851.5" stroke-width="4" stroke-opacity="0.8"/>
<path d="M182.1,1846.5 L198.0,1841.5 L210.7,1835.8 L226.6,1838.7 L245.7,1841.5" stroke-width="2.5" stroke-opacity="0.7"/>
<path d="M738.6,1839.4 L748.1,1851.5 L756.4,1862.2 L765.9,1872.8 L779.9,1878.5 L789.5,1890.6" stroke-width="2.2" stroke-opacity="0.7"/>
<path d="M99.4,1880.7 L80.3,1887.8 L61.2,1893.5 L42.2,1896.3 L23.1,1899.9 L4.0,1901.3" stroke-width="2.2" stroke-opacity="0.8" stroke-dasharray="5 4"/>
<path d="M2245.9,1891.4 L2261.8,1895.6 L2280.9,1899.2 L2293.6,1901.3" stroke-width="2.2" stroke-opacity="0.8" stroke-dasharray="5 4"/>
<path d="M2077.4,1951.9 L2090.1,1945.5 L2102.8,1939.1 L2115.5,1931.9 L2128.2,1920.5 L2139.7,1909.9" stroke-width="2" stroke-opacity="0.8" stroke-dasharray="3 5"/>
<path d="M1977.5,2051.6 L1971.1,2066.5 L1962.9,2078.6 L1947.0,2091.4 L1937.4,2094.3" stroke-width="1.8" stroke-opacity="0.8" stroke-dasharray="2 6"/>
<path d="M1739.6,2171.9 L1739.0,2181.1 L1737.7,2189.7 L1740.3,2203.9 L1745.4,2216.7" stroke-width="2" stroke-opacity="0.8" stroke-dasharray="3 4"/>
<path d="M1613.1,2211.0 L1614.4,2225.3 L1615.6,2239.5 L1615.0,2253.8 L1614.4,2268.0" stroke-width="1.6" stroke-opacity="0.7" stroke-dasharray="2 5"/>
<path d="M760.8,2150.5 L758.3,2158.4 L760.8,2164.0 L760.8,2169.7 L759.6,2174.0 L756.4,2181.8" stroke-width="1.8" stroke-opacity="0.8" stroke-dasharray="2 4"/>
<path d="M749.4,2144.8 L747.5,2139.1 L737.3,2137.7" stroke-width="1.8" stroke-opacity="0.8" stroke-dasharray="2 4"/>
<path d="M653.4,2077.9 L657.8,2083.6 L663.5,2090.0 L668.6,2095.7 L675.0,2100.7 L681.3,2107.8 L687.7,2113.5" stroke-width="1.8" stroke-opacity="0.8" stroke-dasharray="3 4"/>
<path d="M1714.8,2112.1 L1721.2,2112.1 L1727.6,2109.2 L1732.6,2107.8" stroke-width="3" stroke-opacity="0.8"/>
<path d="M1043.2,2180.4 L1049.6,2186.8 L1053.4,2189.7" stroke-width="3" stroke-opacity="0.8"/>
<path d="M1476.3,1758.2 L1485.9,1746.8 L1505.0,1734.0 L1530.4,1725.5 L1568.6,1721.2" stroke-width="2" stroke-opacity="0.7"/>
<path d="M2141.0,2316.4 L2153.7,2325.0 L2166.4,2335.6 L2177.8,2342.8" stroke-width="2" stroke-opacity="0.8" stroke-dasharray="4 4"/>
<path d="M2208.4,2371.2 L2214.1,2383.3 L2219.8,2394.0 L2226.8,2406.8" stroke-width="1.8" stroke-opacity="0.8" stroke-dasharray="3 5"/>
<path d="M1241.0,2012.4 L1239.7,2011.7" stroke-width="2" stroke-opacity="0.8"/>
</g><g fill="#1c2124">
<circle cx="1043.9" cy="2066.5" r="1.8"/>
<circle cx="1049.6" cy="2068.6" r="1.8"/>
<circle cx="1059.8" cy="2065.1" r="1.8"/>
<circle cx="1035.6" cy="2063.7" r="1.3"/>
<circle cx="1062.3" cy="2061.5" r="1.6"/>
<circle cx="996.2" cy="2154.1" r="1.3"/>
<circle cx="999.3" cy="2161.2" r="1.6"/>
<circle cx="989.8" cy="2147.0" r="1.3"/>
<circle cx="970.7" cy="1993.9" r="1.3"/>
<circle cx="986.6" cy="1998.9" r="1.3"/>
<circle cx="1040.7" cy="2035.2" r="1.3"/>
<circle cx="1094.7" cy="1762.5" r="1.3"/>
<circle cx="1028.0" cy="1816.6" r="1.1"/>
<circle cx="1515.1" cy="2411.8" r="1.6"/>
<circle cx="1501.8" cy="2418.2" r="1.6"/>
<circle cx="1424.2" cy="2351.3" r="1.3"/>
<circle cx="1431.2" cy="2354.9" r="1.3"/>
<circle cx="1436.3" cy="2359.1" r="1.3"/>
<circle cx="1501.8" cy="2301.5" r="1.2"/>
<circle cx="1594.0" cy="2619.0" r="1.8"/>
<circle cx="1389.2" cy="2601.2" r="1.1"/>
<circle cx="914.8" cy="2654.6" r="1.8"/>
<circle cx="980.3" cy="2681.0" r="1.1"/>
<circle cx="568.8" cy="2271.6" r="1.8"/>
<circle cx="574.5" cy="2272.3" r="1.3"/>
<circle cx="579.6" cy="2274.4" r="1.2"/>
<circle cx="198.0" cy="2393.3" r="1.3"/>
<circle cx="258.4" cy="2332.1" r="1.1"/>
<circle cx="54.9" cy="2365.5" r="1.3"/>
<circle cx="34.5" cy="2418.9" r="1.2"/>
<circle cx="132.5" cy="2418.9" r="1.1"/>
<circle cx="2288.5" cy="2386.2" r="1.3"/>
<circle cx="2237.6" cy="2217.4" r="1.1"/>
<circle cx="2155.0" cy="2218.9" r="1.2"/>
<circle cx="2114.2" cy="2215.3" r="1.1"/>
<circle cx="2069.7" cy="2171.9" r="1.3"/>
<circle cx="2075.5" cy="2159.8" r="1.1"/>
<circle cx="2004.9" cy="2214.6" r="1.2"/>
<circle cx="2210.3" cy="2271.6" r="0.9"/>
<circle cx="2249.1" cy="2258.0" r="1.1"/>
<circle cx="147.7" cy="2254.5" r="1.1"/>
<circle cx="737.3" cy="2038.0" r="1.1"/>
<circle cx="770.4" cy="2174.0" r="1.2"/>
<circle cx="757.7" cy="2193.2" r="1.3"/>
<circle cx="1764.4" cy="2354.9" r="0.9"/>
<circle cx="1821.1" cy="2342.8" r="0.9"/>
<circle cx="1190.8" cy="2265.9" r="1.3"/>
<circle cx="1195.9" cy="2256.6" r="1.2"/>
<circle cx="1204.1" cy="2243.1" r="1.6"/>
<circle cx="1184.4" cy="2278.0" r="0.9"/>
<circle cx="1112.5" cy="2381.9" r="0.9"/>
<circle cx="1057.2" cy="2324.2" r="0.9"/>
<circle cx="1953.3" cy="2030.2" r="1.6"/>
<circle cx="1971.1" cy="2023.1" r="1.3"/>
<circle cx="1962.9" cy="2079.3" r="1.3"/>
<circle cx="1938.7" cy="2094.3" r="1.2"/>
<circle cx="1470.6" cy="2082.9" r="1.2"/>
<circle cx="1491.0" cy="2179.0" r="1.8"/>
<circle cx="1609.3" cy="2320.0" r="0.9"/>
<circle cx="640.0" cy="2507.9" r="0.9"/>
<circle cx="647.0" cy="2507.2" r="0.9"/>
<circle cx="767.2" cy="2709.4" r="1.3"/>
<circle cx="859.4" cy="2699.5" r="1.3"/>
<circle cx="1270.3" cy="1738.3" r="1.1"/>
<circle cx="1307.8" cy="1722.6" r="1.1"/>
<circle cx="2053.2" cy="2075.8" r="0.9"/>
<circle cx="2047.5" cy="2091.4" r="0.9"/>
<circle cx="2127.6" cy="2095.0" r="0.8"/>
<circle cx="1157.7" cy="1991.0" r="1.3"/>
<circle cx="1174.2" cy="1983.2" r="1.6"/>
<circle cx="1240.4" cy="2012.4" r="1.3"/>
<circle cx="1311.0" cy="2008.1" r="1.3"/>
<circle cx="1320.5" cy="2009.5" r="1.3"/>
<circle cx="1326.9" cy="2010.3" r="1.8"/>
<circle cx="1314.2" cy="1994.6" r="1.6"/>
<circle cx="1316.1" cy="1988.9" r="1.6"/>
<circle cx="1309.1" cy="2004.6" r="1.3"/>
<circle cx="1304.6" cy="1998.9" r="1.2"/>
<circle cx="1129.7" cy="1847.9" r="1.6"/>
<circle cx="1109.4" cy="1860.0" r="1.8"/>
<circle cx="1120.2" cy="1882.1" r="1.3"/>
<circle cx="1274.7" cy="1839.4" r="1.6"/>
<circle cx="1293.2" cy="1848.6" r="1.6"/>
<circle cx="1243.6" cy="1875.7" r="1.3"/>
<circle cx="1221.9" cy="1877.8" r="1.3"/>
<circle cx="678.2" cy="2119.2" r="1.1"/>
<circle cx="685.2" cy="2134.1" r="1.1"/>
<circle cx="641.3" cy="2130.6" r="1.1"/>
<circle cx="632.4" cy="2130.6" r="0.9"/>
<circle cx="622.2" cy="2113.5" r="1.6"/>
<circle cx="596.1" cy="2122.8" r="1.2"/>
<circle cx="590.4" cy="2144.8" r="0.9"/>
<circle cx="528.7" cy="1769.6" r="1.3"/>
<circle cx="509.6" cy="1766.0" r="1.3"/>
<circle cx="643.2" cy="1867.1" r="1.6"/>
<circle cx="640.0" cy="1890.6" r="1.3"/>
<circle cx="647.6" cy="1867.1" r="1.1"/>
<circle cx="1978.8" cy="2269.4" r="1.6"/>
<circle cx="1981.3" cy="2275.1" r="1.3"/>
<circle cx="1961.6" cy="2273.0" r="1.3"/>
<circle cx="1956.5" cy="2279.4" r="1.6"/>
<circle cx="1950.2" cy="2280.8" r="1.6"/>
<circle cx="1954.6" cy="2292.2" r="1.8"/>
<circle cx="1940.6" cy="2280.1" r="1.3"/>
<circle cx="1932.4" cy="2278.7" r="1.6"/>
<circle cx="1929.8" cy="2303.6" r="1.6"/>
<circle cx="1928.5" cy="2306.4" r="1.3"/>
<circle cx="1915.2" cy="2312.1" r="1.2"/>
<circle cx="2004.2" cy="2310.7" r="1.8"/>
<circle cx="1985.1" cy="2322.8" r="1.6"/>
<circle cx="1974.3" cy="2324.2" r="1.2"/>
<circle cx="1953.3" cy="2322.8" r="1.6"/>
<circle cx="1940.6" cy="2327.1" r="1.6"/>
<circle cx="1912.0" cy="2337.1" r="2.0"/>
<circle cx="1905.6" cy="2336.4" r="1.3"/>
<circle cx="1835.0" cy="2288.6" r="1.8"/>
<circle cx="1823.0" cy="2283.7" r="2.3"/>
<circle cx="1813.4" cy="2261.6" r="1.6"/>
<circle cx="1810.2" cy="2260.9" r="1.3"/>
<circle cx="1837.0" cy="2240.2" r="1.3"/>
<circle cx="1768.9" cy="2260.2" r="1.8"/>
<circle cx="1777.2" cy="2277.3" r="1.8"/>
<circle cx="1784.8" cy="2287.9" r="1.6"/>
<circle cx="1758.7" cy="2248.8" r="1.6"/>
<circle cx="1799.4" cy="2306.4" r="1.1"/>
<circle cx="1894.8" cy="2216.7" r="1.1"/>
<circle cx="1918.4" cy="2225.3" r="1.3"/>
<circle cx="1912.0" cy="2230.3" r="1.2"/>
<circle cx="1924.7" cy="2221.0" r="1.3"/>
<circle cx="1937.4" cy="2198.2" r="1.8"/>
<circle cx="1936.2" cy="2194.0" r="1.6"/>
<circle cx="1928.5" cy="2179.7" r="1.3"/>
<circle cx="1934.9" cy="2180.4" r="1.3"/>
<circle cx="1937.4" cy="2186.1" r="1.2"/>
<circle cx="1912.0" cy="2182.6" r="1.6"/>
<circle cx="1924.1" cy="2122.8" r="0.9"/>
</g>
</g>
<text class="mt" x="12" y="2484.3">Média de drinques diários da população</text>
<rect x="11.5" y="2508" width="66.5" height="38.5" fill="#f1f1c5" stroke="#2b2b2b" stroke-width="1.6"/>
<text class="ml" x="87" y="2539.3"><tspan font-size="21" dy="-4.3">&lt;</tspan><tspan dy="4.3" dx="1.5">1.00</tspan></text>
<rect x="11.5" y="2558" width="66.5" height="38.5" fill="#b5d2af" stroke="#2b2b2b" stroke-width="1.6"/>
<text class="ml" x="87" y="2589.3">1.01-2.00</text>
<rect x="11.5" y="2607.5" width="66.5" height="38.5" fill="#72b0a7" stroke="#2b2b2b" stroke-width="1.6"/>
<text class="ml" x="87" y="2638.8">2.01-3.00</text>
<rect x="353.7" y="2508" width="66.5" height="38.5" fill="#3fa2ae" stroke="#2b2b2b" stroke-width="1.6"/>
<text class="ml" x="432" y="2539.3">3.01-4.00</text>
<rect x="353.7" y="2558" width="66.5" height="38.5" fill="#2878ab" stroke="#2b2b2b" stroke-width="1.6"/>
<text class="ml" x="432" y="2589.3">4.01-5.00</text>
<rect x="353.7" y="2607.5" width="66.5" height="38.5" fill="#17428f" stroke="#2b2b2b" stroke-width="1.6"/>
<text class="ml" x="432" y="2638.8"><tspan font-size="21" dy="-4.3">&gt;</tspan><tspan dy="4.3" dx="1.5">5.00</tspan></text>
</svg>
</body></html>
